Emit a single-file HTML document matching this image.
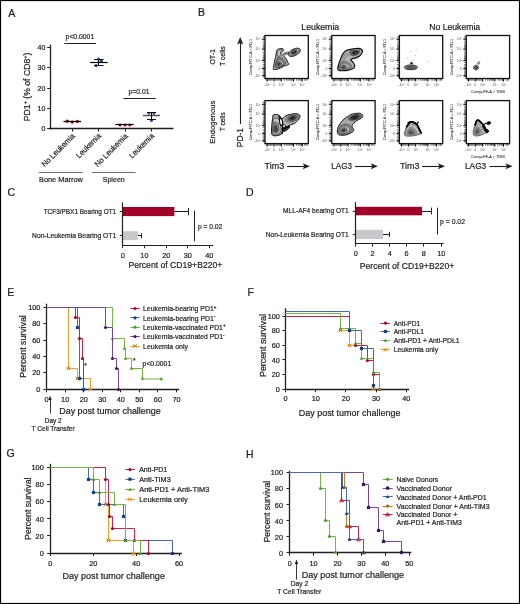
<!DOCTYPE html>
<html><head><meta charset="utf-8"><style>
html,body{margin:0;padding:0;background:#fff;overflow:hidden;}
svg{display:block;font-family:"Liberation Sans",sans-serif;}
text{stroke:#231f20;stroke-width:0.22px;}
svg{will-change:transform;}
</style></head><body>
<svg width="520" height="604" viewBox="0 0 520 604">
<rect width="520" height="604" fill="#fff"/>
<text x="8.2" y="16.5" font-size="10.5" fill="#231f20">A</text>
<text x="198.0" y="16.4" font-size="10.5" fill="#231f20">B</text>
<text x="7.5" y="196.2" font-size="10.5" fill="#231f20">C</text>
<text x="246.1" y="195.6" font-size="10.5" fill="#231f20">D</text>
<text x="7.3" y="295.6" font-size="10.5" fill="#231f20">E</text>
<text x="247.4" y="295.6" font-size="10.5" fill="#231f20">F</text>
<text x="6.4" y="457.3" font-size="10.5" fill="#231f20">G</text>
<text x="245.9" y="457.5" font-size="10.5" fill="#231f20">H</text>
<line x1="50.5" y1="44.7" x2="50.5" y2="129.5" stroke="#231f20" stroke-width="1.3"/>
<line x1="49.4" y1="128.5" x2="173.5" y2="128.5" stroke="#231f20" stroke-width="1.3"/>
<line x1="47.2" y1="128.5" x2="50" y2="128.5" stroke="#231f20" stroke-width="1"/>
<text x="45.4" y="131.4" font-size="7" text-anchor="end" fill="#231f20">0</text>
<line x1="47.2" y1="108.5" x2="50" y2="108.5" stroke="#231f20" stroke-width="1"/>
<text x="45.4" y="110.95" font-size="7" text-anchor="end" fill="#231f20">10</text>
<line x1="47.2" y1="88.5" x2="50" y2="88.5" stroke="#231f20" stroke-width="1"/>
<text x="45.4" y="90.5" font-size="7" text-anchor="end" fill="#231f20">20</text>
<line x1="47.2" y1="67.5" x2="50" y2="67.5" stroke="#231f20" stroke-width="1"/>
<text x="45.4" y="70.05000000000001" font-size="7" text-anchor="end" fill="#231f20">30</text>
<line x1="47.2" y1="47.5" x2="50" y2="47.5" stroke="#231f20" stroke-width="1"/>
<text x="45.4" y="49.60000000000001" font-size="7" text-anchor="end" fill="#231f20">40</text>
<line x1="72.5" y1="128.9" x2="72.5" y2="131.6" stroke="#231f20" stroke-width="1"/>
<line x1="98.5" y1="128.9" x2="98.5" y2="131.6" stroke="#231f20" stroke-width="1"/>
<line x1="125.5" y1="128.9" x2="125.5" y2="131.6" stroke="#231f20" stroke-width="1"/>
<line x1="151.5" y1="128.9" x2="151.5" y2="131.6" stroke="#231f20" stroke-width="1"/>
<text transform="translate(30.2,121.2) rotate(-90)" font-size="8.5" fill="#231f20" textLength="68.6" lengthAdjust="spacingAndGlyphs">PD1<tspan dy="-2.8" font-size="5.5">+</tspan><tspan dy="2.8"> (% of CD8</tspan><tspan dy="-2.8" font-size="5.5">+</tspan><tspan dy="2.8">)</tspan></text>
<text x="65.6" y="38.8" font-size="7.6" textLength="28.6" lengthAdjust="spacingAndGlyphs" fill="#231f20">p&lt;0.0001</text>
<line x1="64.4" y1="43.5" x2="96" y2="43.5" stroke="#231f20" stroke-width="1"/>
<text x="128.6" y="94.2" font-size="7.6" textLength="20.8" lengthAdjust="spacingAndGlyphs" fill="#231f20">p=0.01</text>
<line x1="123.4" y1="98.5" x2="155.7" y2="98.5" stroke="#231f20" stroke-width="1"/>
<circle cx="67.4" cy="121.2" r="1.6" fill="#a8001e"/>
<circle cx="72.2" cy="122.1" r="1.6" fill="#a8001e"/>
<circle cx="77.3" cy="121.4" r="1.6" fill="#a8001e"/>
<line x1="63.5" y1="121.5" x2="81.0" y2="121.5" stroke="#000" stroke-width="1.3"/>
<circle cx="98.6" cy="59.2" r="1.6" fill="#1f4596"/>
<circle cx="101.4" cy="61.3" r="1.6" fill="#1f4596"/>
<circle cx="96.1" cy="65.6" r="1.6" fill="#1f4596"/>
<line x1="90.1" y1="62.5" x2="107.6" y2="62.5" stroke="#000" stroke-width="1.2"/>
<line x1="98.5" y1="59.5" x2="98.5" y2="65.3" stroke="#000" stroke-width="1"/>
<line x1="94" y1="59.5" x2="103.7" y2="59.5" stroke="#111" stroke-width="1"/>
<line x1="94" y1="65.5" x2="103.5" y2="65.5" stroke="#111" stroke-width="1"/>
<circle cx="120.0" cy="124.9" r="1.5" fill="#a8001e"/>
<circle cx="125.0" cy="125.0" r="1.5" fill="#a8001e"/>
<circle cx="129.8" cy="124.9" r="1.5" fill="#a8001e"/>
<line x1="115.4" y1="124.5" x2="133.7" y2="124.5" stroke="#000" stroke-width="1.2"/>
<path d="M147.0,112.36 L150.60000000000002,112.36 L148.8,115.6 Z" fill="#1f4596"/>
<path d="M152.0,112.56 L155.60000000000002,112.56 L153.8,115.8 Z" fill="#1f4596"/>
<circle cx="151.5" cy="120.4" r="1.5" fill="#1f4596"/>
<line x1="143" y1="115.5" x2="160" y2="115.5" stroke="#555" stroke-width="1.5"/>
<line x1="151.5" y1="112.4" x2="151.5" y2="119.4" stroke="#000" stroke-width="1"/>
<line x1="146.9" y1="112.5" x2="156.2" y2="112.5" stroke="#111" stroke-width="1"/>
<line x1="147" y1="119.5" x2="156" y2="119.5" stroke="#111" stroke-width="1"/>
<text transform="translate(75.5,136.5) rotate(-45)" font-size="7.8" text-anchor="end" textLength="43.5" lengthAdjust="spacingAndGlyphs" fill="#231f20">No Leukemia</text>
<text transform="translate(101.5,136.5) rotate(-45)" font-size="7.8" text-anchor="end" textLength="31.3" lengthAdjust="spacingAndGlyphs" fill="#231f20">Leukemia</text>
<text transform="translate(128.4,136.5) rotate(-45)" font-size="7.8" text-anchor="end" textLength="43.5" lengthAdjust="spacingAndGlyphs" fill="#231f20">No Leukemia</text>
<text transform="translate(154.5,136.5) rotate(-45)" font-size="7.8" text-anchor="end" textLength="31.3" lengthAdjust="spacingAndGlyphs" fill="#231f20">Leukemia</text>
<line x1="38.8" y1="172.5" x2="82.8" y2="172.5" stroke="#6d6e71" stroke-width="1"/>
<line x1="92.2" y1="172.5" x2="135.5" y2="172.5" stroke="#6d6e71" stroke-width="1"/>
<text x="39.0" y="182.3" font-size="8.0" textLength="43.8" lengthAdjust="spacingAndGlyphs" fill="#231f20">Bone Marrow</text>
<text x="102.7" y="182.3" font-size="8.0" textLength="22.1" lengthAdjust="spacingAndGlyphs" fill="#231f20">Spleen</text>
<text x="301.3" y="30.2" font-size="8.7" textLength="37.9" lengthAdjust="spacingAndGlyphs" fill="#231f20">Leukemia</text>
<text x="429.2" y="30.2" font-size="8.7" textLength="51.0" lengthAdjust="spacingAndGlyphs" fill="#231f20">No Leukemia</text>
<text transform="translate(215.3,56.8) rotate(-90)" font-size="8" text-anchor="middle" textLength="15.6" lengthAdjust="spacingAndGlyphs" fill="#231f20">OT-1</text>
<text transform="translate(224.6,56.2) rotate(-90)" font-size="8" text-anchor="middle" textLength="19.6" lengthAdjust="spacingAndGlyphs" fill="#231f20">T cells</text>
<text transform="translate(215.2,122.2) rotate(-90)" font-size="8" text-anchor="middle" textLength="43.0" lengthAdjust="spacingAndGlyphs" fill="#231f20">Endogenous</text>
<text transform="translate(224.9,121.8) rotate(-90)" font-size="8" text-anchor="middle" textLength="19.0" lengthAdjust="spacingAndGlyphs" fill="#231f20">T cells</text>
<text transform="translate(243.3,147.2) rotate(-90)" font-size="9.8" textLength="19.2" lengthAdjust="spacingAndGlyphs" fill="#231f20">PD-1</text>
<line x1="240.5" y1="42" x2="240.5" y2="124" stroke="#231f20" stroke-width="1.1"/>
<path d="M240.2,37 L237.1,44.4 L240.2,43 L243.3,44.4 Z" fill="#231f20"/>
<text x="264.6" y="169.1" font-size="9" textLength="19.6" lengthAdjust="spacingAndGlyphs" fill="#231f20">Tim3</text>
<line x1="287.1" y1="166.5" x2="304.8" y2="166.5" stroke="#231f20" stroke-width="1.1"/>
<path d="M309.8,166.2 L302.8,163.2 L304.3,166.2 L302.8,169.2 Z" fill="#231f20"/>
<text x="331.3" y="169.1" font-size="9" textLength="20.6" lengthAdjust="spacingAndGlyphs" fill="#231f20">LAG3</text>
<line x1="355.0" y1="166.5" x2="372.8" y2="166.5" stroke="#231f20" stroke-width="1.1"/>
<path d="M377.8,166.2 L370.8,163.2 L372.3,166.2 L370.8,169.2 Z" fill="#231f20"/>
<text x="400.0" y="169.1" font-size="9" textLength="19.5" lengthAdjust="spacingAndGlyphs" fill="#231f20">Tim3</text>
<line x1="422.0" y1="166.5" x2="440.0" y2="166.5" stroke="#231f20" stroke-width="1.1"/>
<path d="M445.0,166.2 L438.0,163.2 L439.5,166.2 L438.0,169.2 Z" fill="#231f20"/>
<text x="465.0" y="169.1" font-size="9" textLength="21.2" lengthAdjust="spacingAndGlyphs" fill="#231f20">LAG3</text>
<line x1="489.5" y1="166.5" x2="507.5" y2="166.5" stroke="#231f20" stroke-width="1.1"/>
<path d="M512.5,166.2 L505.5,163.2 L507.0,166.2 L505.5,169.2 Z" fill="#231f20"/>
<rect x="265.0" y="35.5" width="43.3" height="43.0" fill="none" stroke="#111" stroke-width="1.3"/>
<line x1="262.0" y1="39.2" x2="265.0" y2="39.2" stroke="#000" stroke-width="1.0"/>
<line x1="262.0" y1="49.1" x2="265.0" y2="49.1" stroke="#000" stroke-width="1.0"/>
<line x1="262.0" y1="60.6" x2="265.0" y2="60.6" stroke="#000" stroke-width="1.0"/>
<line x1="262.0" y1="68.6" x2="265.0" y2="68.6" stroke="#000" stroke-width="1.0"/>
<line x1="262.0" y1="75.7" x2="265.0" y2="75.7" stroke="#000" stroke-width="1.0"/>
<line x1="262.8" y1="36.7" x2="265.0" y2="36.7" stroke="#222" stroke-width="0.6"/>
<line x1="262.8" y1="37.9" x2="265.0" y2="37.9" stroke="#222" stroke-width="0.6"/>
<line x1="262.8" y1="41.0" x2="265.0" y2="41.0" stroke="#222" stroke-width="0.6"/>
<line x1="262.8" y1="42.7" x2="265.0" y2="42.7" stroke="#222" stroke-width="0.6"/>
<line x1="262.8" y1="44.1" x2="265.0" y2="44.1" stroke="#222" stroke-width="0.6"/>
<line x1="262.8" y1="45.3" x2="265.0" y2="45.3" stroke="#222" stroke-width="0.6"/>
<line x1="262.8" y1="46.4" x2="265.0" y2="46.4" stroke="#222" stroke-width="0.6"/>
<line x1="262.8" y1="47.3" x2="265.0" y2="47.3" stroke="#222" stroke-width="0.6"/>
<line x1="262.8" y1="48.2" x2="265.0" y2="48.2" stroke="#222" stroke-width="0.6"/>
<line x1="262.8" y1="50.9" x2="265.0" y2="50.9" stroke="#222" stroke-width="0.6"/>
<line x1="262.8" y1="52.6" x2="265.0" y2="52.6" stroke="#222" stroke-width="0.6"/>
<line x1="262.8" y1="54.0" x2="265.0" y2="54.0" stroke="#222" stroke-width="0.6"/>
<line x1="262.8" y1="55.2" x2="265.0" y2="55.2" stroke="#222" stroke-width="0.6"/>
<line x1="262.8" y1="56.3" x2="265.0" y2="56.3" stroke="#222" stroke-width="0.6"/>
<line x1="262.8" y1="57.3" x2="265.0" y2="57.3" stroke="#222" stroke-width="0.6"/>
<line x1="262.8" y1="58.1" x2="265.0" y2="58.1" stroke="#222" stroke-width="0.6"/>
<line x1="262.8" y1="58.9" x2="265.0" y2="58.9" stroke="#222" stroke-width="0.6"/>
<line x1="262.8" y1="59.7" x2="265.0" y2="59.7" stroke="#222" stroke-width="0.6"/>
<line x1="262.8" y1="62.5" x2="265.0" y2="62.5" stroke="#222" stroke-width="0.6"/>
<line x1="262.8" y1="64.5" x2="265.0" y2="64.5" stroke="#222" stroke-width="0.6"/>
<line x1="262.8" y1="66.0" x2="265.0" y2="66.0" stroke="#222" stroke-width="0.6"/>
<line x1="262.8" y1="67.3" x2="265.0" y2="67.3" stroke="#222" stroke-width="0.6"/>
<line x1="262.8" y1="69.9" x2="265.0" y2="69.9" stroke="#222" stroke-width="0.6"/>
<line x1="262.8" y1="71.1" x2="265.0" y2="71.1" stroke="#222" stroke-width="0.6"/>
<line x1="262.8" y1="72.3" x2="265.0" y2="72.3" stroke="#222" stroke-width="0.6"/>
<line x1="262.8" y1="73.7" x2="265.0" y2="73.7" stroke="#222" stroke-width="0.6"/>
<line x1="262.8" y1="74.8" x2="265.0" y2="74.8" stroke="#222" stroke-width="0.6"/>
<line x1="262.8" y1="76.7" x2="265.0" y2="76.7" stroke="#222" stroke-width="0.6"/>
<text x="260.5" y="40.400000000000006" font-size="3.4" text-anchor="end" fill="#555" style="stroke:none">10<tspan dy='-1' font-size='2.2'>5</tspan></text>
<text x="260.5" y="50.300000000000004" font-size="3.4" text-anchor="end" fill="#555" style="stroke:none">10<tspan dy='-1' font-size='2.2'>4</tspan></text>
<text x="260.5" y="61.800000000000004" font-size="3.4" text-anchor="end" fill="#555" style="stroke:none">10<tspan dy='-1' font-size='2.2'>3</tspan></text>
<text x="260.5" y="69.8" font-size="3.4" text-anchor="end" fill="#555" style="stroke:none">0</text>
<text x="260.5" y="76.9" font-size="3.4" text-anchor="end" fill="#555" style="stroke:none">-10<tspan dy='-1' font-size='2.2'>3</tspan></text>
<text transform="translate(251.8,57.0) rotate(-90)" font-size="3.6" text-anchor="middle" textLength="36.5" lengthAdjust="spacingAndGlyphs" fill="#3a3a3a" style="stroke:#3a3a3a;stroke-width:0.08px">Comp-FITC-A :: PD-1</text>
<line x1="267.2" y1="78.5" x2="267.2" y2="81.5" stroke="#000" stroke-width="1.0"/>
<line x1="274.0" y1="78.5" x2="274.0" y2="81.5" stroke="#000" stroke-width="1.0"/>
<line x1="281.3" y1="78.5" x2="281.3" y2="81.5" stroke="#000" stroke-width="1.0"/>
<line x1="293.5" y1="78.5" x2="293.5" y2="81.5" stroke="#000" stroke-width="1.0"/>
<line x1="302.2" y1="78.5" x2="302.2" y2="81.5" stroke="#000" stroke-width="1.0"/>
<line x1="266.2" y1="78.5" x2="266.2" y2="80.7" stroke="#222" stroke-width="0.6"/>
<line x1="268.3" y1="78.5" x2="268.3" y2="80.7" stroke="#222" stroke-width="0.6"/>
<line x1="269.4" y1="78.5" x2="269.4" y2="80.7" stroke="#222" stroke-width="0.6"/>
<line x1="270.5" y1="78.5" x2="270.5" y2="80.7" stroke="#222" stroke-width="0.6"/>
<line x1="271.6" y1="78.5" x2="271.6" y2="80.7" stroke="#222" stroke-width="0.6"/>
<line x1="272.8" y1="78.5" x2="272.8" y2="80.7" stroke="#222" stroke-width="0.6"/>
<line x1="275.2" y1="78.5" x2="275.2" y2="80.7" stroke="#222" stroke-width="0.6"/>
<line x1="276.3" y1="78.5" x2="276.3" y2="80.7" stroke="#222" stroke-width="0.6"/>
<line x1="277.4" y1="78.5" x2="277.4" y2="80.7" stroke="#222" stroke-width="0.6"/>
<line x1="278.4" y1="78.5" x2="278.4" y2="80.7" stroke="#222" stroke-width="0.6"/>
<line x1="279.6" y1="78.5" x2="279.6" y2="80.7" stroke="#222" stroke-width="0.6"/>
<line x1="280.5" y1="78.5" x2="280.5" y2="80.7" stroke="#222" stroke-width="0.6"/>
<line x1="284.4" y1="78.5" x2="284.4" y2="80.7" stroke="#222" stroke-width="0.6"/>
<line x1="286.3" y1="78.5" x2="286.3" y2="80.7" stroke="#222" stroke-width="0.6"/>
<line x1="287.8" y1="78.5" x2="287.8" y2="80.7" stroke="#222" stroke-width="0.6"/>
<line x1="289.0" y1="78.5" x2="289.0" y2="80.7" stroke="#222" stroke-width="0.6"/>
<line x1="290.1" y1="78.5" x2="290.1" y2="80.7" stroke="#222" stroke-width="0.6"/>
<line x1="291.1" y1="78.5" x2="291.1" y2="80.7" stroke="#222" stroke-width="0.6"/>
<line x1="292.0" y1="78.5" x2="292.0" y2="80.7" stroke="#222" stroke-width="0.6"/>
<line x1="292.8" y1="78.5" x2="292.8" y2="80.7" stroke="#222" stroke-width="0.6"/>
<line x1="296.6" y1="78.5" x2="296.6" y2="80.7" stroke="#222" stroke-width="0.6"/>
<line x1="298.4" y1="78.5" x2="298.4" y2="80.7" stroke="#222" stroke-width="0.6"/>
<line x1="299.8" y1="78.5" x2="299.8" y2="80.7" stroke="#222" stroke-width="0.6"/>
<line x1="300.9" y1="78.5" x2="300.9" y2="80.7" stroke="#222" stroke-width="0.6"/>
<line x1="301.6" y1="78.5" x2="301.6" y2="80.7" stroke="#222" stroke-width="0.6"/>
<line x1="304.6" y1="78.5" x2="304.6" y2="80.7" stroke="#222" stroke-width="0.6"/>
<line x1="306.0" y1="78.5" x2="306.0" y2="80.7" stroke="#222" stroke-width="0.6"/>
<line x1="307.2" y1="78.5" x2="307.2" y2="80.7" stroke="#222" stroke-width="0.6"/>
<text x="267.2" y="86.1" font-size="3.4" text-anchor="middle" fill="#555" style="stroke:none">-10<tspan dy='-1' font-size='2.2'>3</tspan></text>
<text x="274.0" y="86.1" font-size="3.4" text-anchor="middle" fill="#555" style="stroke:none">0</text>
<text x="281.3" y="86.1" font-size="3.4" text-anchor="middle" fill="#555" style="stroke:none">10<tspan dy='-1' font-size='2.2'>3</tspan></text>
<text x="293.5" y="86.1" font-size="3.4" text-anchor="middle" fill="#555" style="stroke:none">10<tspan dy='-1' font-size='2.2'>4</tspan></text>
<text x="302.2" y="86.1" font-size="3.4" text-anchor="middle" fill="#555" style="stroke:none">10<tspan dy='-1' font-size='2.2'>5</tspan></text>
<rect x="331.8" y="35.5" width="43.3" height="43.0" fill="none" stroke="#111" stroke-width="1.3"/>
<line x1="328.8" y1="39.2" x2="331.8" y2="39.2" stroke="#000" stroke-width="1.0"/>
<line x1="328.8" y1="49.1" x2="331.8" y2="49.1" stroke="#000" stroke-width="1.0"/>
<line x1="328.8" y1="60.6" x2="331.8" y2="60.6" stroke="#000" stroke-width="1.0"/>
<line x1="328.8" y1="68.6" x2="331.8" y2="68.6" stroke="#000" stroke-width="1.0"/>
<line x1="328.8" y1="75.7" x2="331.8" y2="75.7" stroke="#000" stroke-width="1.0"/>
<line x1="329.6" y1="36.7" x2="331.8" y2="36.7" stroke="#222" stroke-width="0.6"/>
<line x1="329.6" y1="37.9" x2="331.8" y2="37.9" stroke="#222" stroke-width="0.6"/>
<line x1="329.6" y1="41.0" x2="331.8" y2="41.0" stroke="#222" stroke-width="0.6"/>
<line x1="329.6" y1="42.7" x2="331.8" y2="42.7" stroke="#222" stroke-width="0.6"/>
<line x1="329.6" y1="44.1" x2="331.8" y2="44.1" stroke="#222" stroke-width="0.6"/>
<line x1="329.6" y1="45.3" x2="331.8" y2="45.3" stroke="#222" stroke-width="0.6"/>
<line x1="329.6" y1="46.4" x2="331.8" y2="46.4" stroke="#222" stroke-width="0.6"/>
<line x1="329.6" y1="47.3" x2="331.8" y2="47.3" stroke="#222" stroke-width="0.6"/>
<line x1="329.6" y1="48.2" x2="331.8" y2="48.2" stroke="#222" stroke-width="0.6"/>
<line x1="329.6" y1="50.9" x2="331.8" y2="50.9" stroke="#222" stroke-width="0.6"/>
<line x1="329.6" y1="52.6" x2="331.8" y2="52.6" stroke="#222" stroke-width="0.6"/>
<line x1="329.6" y1="54.0" x2="331.8" y2="54.0" stroke="#222" stroke-width="0.6"/>
<line x1="329.6" y1="55.2" x2="331.8" y2="55.2" stroke="#222" stroke-width="0.6"/>
<line x1="329.6" y1="56.3" x2="331.8" y2="56.3" stroke="#222" stroke-width="0.6"/>
<line x1="329.6" y1="57.3" x2="331.8" y2="57.3" stroke="#222" stroke-width="0.6"/>
<line x1="329.6" y1="58.1" x2="331.8" y2="58.1" stroke="#222" stroke-width="0.6"/>
<line x1="329.6" y1="58.9" x2="331.8" y2="58.9" stroke="#222" stroke-width="0.6"/>
<line x1="329.6" y1="59.7" x2="331.8" y2="59.7" stroke="#222" stroke-width="0.6"/>
<line x1="329.6" y1="62.5" x2="331.8" y2="62.5" stroke="#222" stroke-width="0.6"/>
<line x1="329.6" y1="64.5" x2="331.8" y2="64.5" stroke="#222" stroke-width="0.6"/>
<line x1="329.6" y1="66.0" x2="331.8" y2="66.0" stroke="#222" stroke-width="0.6"/>
<line x1="329.6" y1="67.3" x2="331.8" y2="67.3" stroke="#222" stroke-width="0.6"/>
<line x1="329.6" y1="69.9" x2="331.8" y2="69.9" stroke="#222" stroke-width="0.6"/>
<line x1="329.6" y1="71.1" x2="331.8" y2="71.1" stroke="#222" stroke-width="0.6"/>
<line x1="329.6" y1="72.3" x2="331.8" y2="72.3" stroke="#222" stroke-width="0.6"/>
<line x1="329.6" y1="73.7" x2="331.8" y2="73.7" stroke="#222" stroke-width="0.6"/>
<line x1="329.6" y1="74.8" x2="331.8" y2="74.8" stroke="#222" stroke-width="0.6"/>
<line x1="329.6" y1="76.7" x2="331.8" y2="76.7" stroke="#222" stroke-width="0.6"/>
<text x="327.3" y="40.400000000000006" font-size="3.4" text-anchor="end" fill="#555" style="stroke:none">10<tspan dy='-1' font-size='2.2'>5</tspan></text>
<text x="327.3" y="50.300000000000004" font-size="3.4" text-anchor="end" fill="#555" style="stroke:none">10<tspan dy='-1' font-size='2.2'>4</tspan></text>
<text x="327.3" y="61.800000000000004" font-size="3.4" text-anchor="end" fill="#555" style="stroke:none">10<tspan dy='-1' font-size='2.2'>3</tspan></text>
<text x="327.3" y="69.8" font-size="3.4" text-anchor="end" fill="#555" style="stroke:none">0</text>
<text x="327.3" y="76.9" font-size="3.4" text-anchor="end" fill="#555" style="stroke:none">-10<tspan dy='-1' font-size='2.2'>3</tspan></text>
<text transform="translate(318.6,57.0) rotate(-90)" font-size="3.6" text-anchor="middle" textLength="36.5" lengthAdjust="spacingAndGlyphs" fill="#3a3a3a" style="stroke:#3a3a3a;stroke-width:0.08px">Comp-FITC-A :: PD-1</text>
<line x1="334.0" y1="78.5" x2="334.0" y2="81.5" stroke="#000" stroke-width="1.0"/>
<line x1="340.8" y1="78.5" x2="340.8" y2="81.5" stroke="#000" stroke-width="1.0"/>
<line x1="348.1" y1="78.5" x2="348.1" y2="81.5" stroke="#000" stroke-width="1.0"/>
<line x1="360.3" y1="78.5" x2="360.3" y2="81.5" stroke="#000" stroke-width="1.0"/>
<line x1="369.0" y1="78.5" x2="369.0" y2="81.5" stroke="#000" stroke-width="1.0"/>
<line x1="333.0" y1="78.5" x2="333.0" y2="80.7" stroke="#222" stroke-width="0.6"/>
<line x1="335.1" y1="78.5" x2="335.1" y2="80.7" stroke="#222" stroke-width="0.6"/>
<line x1="336.2" y1="78.5" x2="336.2" y2="80.7" stroke="#222" stroke-width="0.6"/>
<line x1="337.3" y1="78.5" x2="337.3" y2="80.7" stroke="#222" stroke-width="0.6"/>
<line x1="338.40000000000003" y1="78.5" x2="338.40000000000003" y2="80.7" stroke="#222" stroke-width="0.6"/>
<line x1="339.6" y1="78.5" x2="339.6" y2="80.7" stroke="#222" stroke-width="0.6"/>
<line x1="342.0" y1="78.5" x2="342.0" y2="80.7" stroke="#222" stroke-width="0.6"/>
<line x1="343.1" y1="78.5" x2="343.1" y2="80.7" stroke="#222" stroke-width="0.6"/>
<line x1="344.2" y1="78.5" x2="344.2" y2="80.7" stroke="#222" stroke-width="0.6"/>
<line x1="345.2" y1="78.5" x2="345.2" y2="80.7" stroke="#222" stroke-width="0.6"/>
<line x1="346.40000000000003" y1="78.5" x2="346.40000000000003" y2="80.7" stroke="#222" stroke-width="0.6"/>
<line x1="347.3" y1="78.5" x2="347.3" y2="80.7" stroke="#222" stroke-width="0.6"/>
<line x1="351.2" y1="78.5" x2="351.2" y2="80.7" stroke="#222" stroke-width="0.6"/>
<line x1="353.1" y1="78.5" x2="353.1" y2="80.7" stroke="#222" stroke-width="0.6"/>
<line x1="354.6" y1="78.5" x2="354.6" y2="80.7" stroke="#222" stroke-width="0.6"/>
<line x1="355.8" y1="78.5" x2="355.8" y2="80.7" stroke="#222" stroke-width="0.6"/>
<line x1="356.90000000000003" y1="78.5" x2="356.90000000000003" y2="80.7" stroke="#222" stroke-width="0.6"/>
<line x1="357.90000000000003" y1="78.5" x2="357.90000000000003" y2="80.7" stroke="#222" stroke-width="0.6"/>
<line x1="358.8" y1="78.5" x2="358.8" y2="80.7" stroke="#222" stroke-width="0.6"/>
<line x1="359.6" y1="78.5" x2="359.6" y2="80.7" stroke="#222" stroke-width="0.6"/>
<line x1="363.40000000000003" y1="78.5" x2="363.40000000000003" y2="80.7" stroke="#222" stroke-width="0.6"/>
<line x1="365.2" y1="78.5" x2="365.2" y2="80.7" stroke="#222" stroke-width="0.6"/>
<line x1="366.6" y1="78.5" x2="366.6" y2="80.7" stroke="#222" stroke-width="0.6"/>
<line x1="367.7" y1="78.5" x2="367.7" y2="80.7" stroke="#222" stroke-width="0.6"/>
<line x1="368.40000000000003" y1="78.5" x2="368.40000000000003" y2="80.7" stroke="#222" stroke-width="0.6"/>
<line x1="371.40000000000003" y1="78.5" x2="371.40000000000003" y2="80.7" stroke="#222" stroke-width="0.6"/>
<line x1="372.8" y1="78.5" x2="372.8" y2="80.7" stroke="#222" stroke-width="0.6"/>
<line x1="374.0" y1="78.5" x2="374.0" y2="80.7" stroke="#222" stroke-width="0.6"/>
<text x="334.0" y="86.1" font-size="3.4" text-anchor="middle" fill="#555" style="stroke:none">-10<tspan dy='-1' font-size='2.2'>3</tspan></text>
<text x="340.8" y="86.1" font-size="3.4" text-anchor="middle" fill="#555" style="stroke:none">0</text>
<text x="348.1" y="86.1" font-size="3.4" text-anchor="middle" fill="#555" style="stroke:none">10<tspan dy='-1' font-size='2.2'>3</tspan></text>
<text x="360.3" y="86.1" font-size="3.4" text-anchor="middle" fill="#555" style="stroke:none">10<tspan dy='-1' font-size='2.2'>4</tspan></text>
<text x="369.0" y="86.1" font-size="3.4" text-anchor="middle" fill="#555" style="stroke:none">10<tspan dy='-1' font-size='2.2'>5</tspan></text>
<rect x="399.4" y="35.5" width="43.3" height="43.0" fill="none" stroke="#111" stroke-width="1.3"/>
<line x1="396.4" y1="39.2" x2="399.4" y2="39.2" stroke="#000" stroke-width="1.0"/>
<line x1="396.4" y1="49.1" x2="399.4" y2="49.1" stroke="#000" stroke-width="1.0"/>
<line x1="396.4" y1="60.6" x2="399.4" y2="60.6" stroke="#000" stroke-width="1.0"/>
<line x1="396.4" y1="68.6" x2="399.4" y2="68.6" stroke="#000" stroke-width="1.0"/>
<line x1="396.4" y1="75.7" x2="399.4" y2="75.7" stroke="#000" stroke-width="1.0"/>
<line x1="397.2" y1="36.7" x2="399.4" y2="36.7" stroke="#222" stroke-width="0.6"/>
<line x1="397.2" y1="37.9" x2="399.4" y2="37.9" stroke="#222" stroke-width="0.6"/>
<line x1="397.2" y1="41.0" x2="399.4" y2="41.0" stroke="#222" stroke-width="0.6"/>
<line x1="397.2" y1="42.7" x2="399.4" y2="42.7" stroke="#222" stroke-width="0.6"/>
<line x1="397.2" y1="44.1" x2="399.4" y2="44.1" stroke="#222" stroke-width="0.6"/>
<line x1="397.2" y1="45.3" x2="399.4" y2="45.3" stroke="#222" stroke-width="0.6"/>
<line x1="397.2" y1="46.4" x2="399.4" y2="46.4" stroke="#222" stroke-width="0.6"/>
<line x1="397.2" y1="47.3" x2="399.4" y2="47.3" stroke="#222" stroke-width="0.6"/>
<line x1="397.2" y1="48.2" x2="399.4" y2="48.2" stroke="#222" stroke-width="0.6"/>
<line x1="397.2" y1="50.9" x2="399.4" y2="50.9" stroke="#222" stroke-width="0.6"/>
<line x1="397.2" y1="52.6" x2="399.4" y2="52.6" stroke="#222" stroke-width="0.6"/>
<line x1="397.2" y1="54.0" x2="399.4" y2="54.0" stroke="#222" stroke-width="0.6"/>
<line x1="397.2" y1="55.2" x2="399.4" y2="55.2" stroke="#222" stroke-width="0.6"/>
<line x1="397.2" y1="56.3" x2="399.4" y2="56.3" stroke="#222" stroke-width="0.6"/>
<line x1="397.2" y1="57.3" x2="399.4" y2="57.3" stroke="#222" stroke-width="0.6"/>
<line x1="397.2" y1="58.1" x2="399.4" y2="58.1" stroke="#222" stroke-width="0.6"/>
<line x1="397.2" y1="58.9" x2="399.4" y2="58.9" stroke="#222" stroke-width="0.6"/>
<line x1="397.2" y1="59.7" x2="399.4" y2="59.7" stroke="#222" stroke-width="0.6"/>
<line x1="397.2" y1="62.5" x2="399.4" y2="62.5" stroke="#222" stroke-width="0.6"/>
<line x1="397.2" y1="64.5" x2="399.4" y2="64.5" stroke="#222" stroke-width="0.6"/>
<line x1="397.2" y1="66.0" x2="399.4" y2="66.0" stroke="#222" stroke-width="0.6"/>
<line x1="397.2" y1="67.3" x2="399.4" y2="67.3" stroke="#222" stroke-width="0.6"/>
<line x1="397.2" y1="69.9" x2="399.4" y2="69.9" stroke="#222" stroke-width="0.6"/>
<line x1="397.2" y1="71.1" x2="399.4" y2="71.1" stroke="#222" stroke-width="0.6"/>
<line x1="397.2" y1="72.3" x2="399.4" y2="72.3" stroke="#222" stroke-width="0.6"/>
<line x1="397.2" y1="73.7" x2="399.4" y2="73.7" stroke="#222" stroke-width="0.6"/>
<line x1="397.2" y1="74.8" x2="399.4" y2="74.8" stroke="#222" stroke-width="0.6"/>
<line x1="397.2" y1="76.7" x2="399.4" y2="76.7" stroke="#222" stroke-width="0.6"/>
<text x="394.9" y="40.400000000000006" font-size="3.4" text-anchor="end" fill="#555" style="stroke:none">10<tspan dy='-1' font-size='2.2'>5</tspan></text>
<text x="394.9" y="50.300000000000004" font-size="3.4" text-anchor="end" fill="#555" style="stroke:none">10<tspan dy='-1' font-size='2.2'>4</tspan></text>
<text x="394.9" y="61.800000000000004" font-size="3.4" text-anchor="end" fill="#555" style="stroke:none">10<tspan dy='-1' font-size='2.2'>3</tspan></text>
<text x="394.9" y="69.8" font-size="3.4" text-anchor="end" fill="#555" style="stroke:none">0</text>
<text x="394.9" y="76.9" font-size="3.4" text-anchor="end" fill="#555" style="stroke:none">-10<tspan dy='-1' font-size='2.2'>3</tspan></text>
<text transform="translate(386.2,57.0) rotate(-90)" font-size="3.6" text-anchor="middle" textLength="36.5" lengthAdjust="spacingAndGlyphs" fill="#3a3a3a" style="stroke:#3a3a3a;stroke-width:0.08px">Comp-FITC-A :: PD-1</text>
<line x1="401.59999999999997" y1="78.5" x2="401.59999999999997" y2="81.5" stroke="#000" stroke-width="1.0"/>
<line x1="408.4" y1="78.5" x2="408.4" y2="81.5" stroke="#000" stroke-width="1.0"/>
<line x1="415.7" y1="78.5" x2="415.7" y2="81.5" stroke="#000" stroke-width="1.0"/>
<line x1="427.9" y1="78.5" x2="427.9" y2="81.5" stroke="#000" stroke-width="1.0"/>
<line x1="436.59999999999997" y1="78.5" x2="436.59999999999997" y2="81.5" stroke="#000" stroke-width="1.0"/>
<line x1="400.59999999999997" y1="78.5" x2="400.59999999999997" y2="80.7" stroke="#222" stroke-width="0.6"/>
<line x1="402.7" y1="78.5" x2="402.7" y2="80.7" stroke="#222" stroke-width="0.6"/>
<line x1="403.79999999999995" y1="78.5" x2="403.79999999999995" y2="80.7" stroke="#222" stroke-width="0.6"/>
<line x1="404.9" y1="78.5" x2="404.9" y2="80.7" stroke="#222" stroke-width="0.6"/>
<line x1="406.0" y1="78.5" x2="406.0" y2="80.7" stroke="#222" stroke-width="0.6"/>
<line x1="407.2" y1="78.5" x2="407.2" y2="80.7" stroke="#222" stroke-width="0.6"/>
<line x1="409.59999999999997" y1="78.5" x2="409.59999999999997" y2="80.7" stroke="#222" stroke-width="0.6"/>
<line x1="410.7" y1="78.5" x2="410.7" y2="80.7" stroke="#222" stroke-width="0.6"/>
<line x1="411.79999999999995" y1="78.5" x2="411.79999999999995" y2="80.7" stroke="#222" stroke-width="0.6"/>
<line x1="412.79999999999995" y1="78.5" x2="412.79999999999995" y2="80.7" stroke="#222" stroke-width="0.6"/>
<line x1="414.0" y1="78.5" x2="414.0" y2="80.7" stroke="#222" stroke-width="0.6"/>
<line x1="414.9" y1="78.5" x2="414.9" y2="80.7" stroke="#222" stroke-width="0.6"/>
<line x1="418.79999999999995" y1="78.5" x2="418.79999999999995" y2="80.7" stroke="#222" stroke-width="0.6"/>
<line x1="420.7" y1="78.5" x2="420.7" y2="80.7" stroke="#222" stroke-width="0.6"/>
<line x1="422.2" y1="78.5" x2="422.2" y2="80.7" stroke="#222" stroke-width="0.6"/>
<line x1="423.4" y1="78.5" x2="423.4" y2="80.7" stroke="#222" stroke-width="0.6"/>
<line x1="424.5" y1="78.5" x2="424.5" y2="80.7" stroke="#222" stroke-width="0.6"/>
<line x1="425.5" y1="78.5" x2="425.5" y2="80.7" stroke="#222" stroke-width="0.6"/>
<line x1="426.4" y1="78.5" x2="426.4" y2="80.7" stroke="#222" stroke-width="0.6"/>
<line x1="427.2" y1="78.5" x2="427.2" y2="80.7" stroke="#222" stroke-width="0.6"/>
<line x1="431.0" y1="78.5" x2="431.0" y2="80.7" stroke="#222" stroke-width="0.6"/>
<line x1="432.79999999999995" y1="78.5" x2="432.79999999999995" y2="80.7" stroke="#222" stroke-width="0.6"/>
<line x1="434.2" y1="78.5" x2="434.2" y2="80.7" stroke="#222" stroke-width="0.6"/>
<line x1="435.29999999999995" y1="78.5" x2="435.29999999999995" y2="80.7" stroke="#222" stroke-width="0.6"/>
<line x1="436.0" y1="78.5" x2="436.0" y2="80.7" stroke="#222" stroke-width="0.6"/>
<line x1="439.0" y1="78.5" x2="439.0" y2="80.7" stroke="#222" stroke-width="0.6"/>
<line x1="440.4" y1="78.5" x2="440.4" y2="80.7" stroke="#222" stroke-width="0.6"/>
<line x1="441.59999999999997" y1="78.5" x2="441.59999999999997" y2="80.7" stroke="#222" stroke-width="0.6"/>
<text x="401.59999999999997" y="86.1" font-size="3.4" text-anchor="middle" fill="#555" style="stroke:none">-10<tspan dy='-1' font-size='2.2'>3</tspan></text>
<text x="408.4" y="86.1" font-size="3.4" text-anchor="middle" fill="#555" style="stroke:none">0</text>
<text x="415.7" y="86.1" font-size="3.4" text-anchor="middle" fill="#555" style="stroke:none">10<tspan dy='-1' font-size='2.2'>3</tspan></text>
<text x="427.9" y="86.1" font-size="3.4" text-anchor="middle" fill="#555" style="stroke:none">10<tspan dy='-1' font-size='2.2'>4</tspan></text>
<text x="436.59999999999997" y="86.1" font-size="3.4" text-anchor="middle" fill="#555" style="stroke:none">10<tspan dy='-1' font-size='2.2'>5</tspan></text>
<rect x="466.3" y="35.5" width="43.3" height="43.0" fill="none" stroke="#111" stroke-width="1.3"/>
<line x1="463.3" y1="39.2" x2="466.3" y2="39.2" stroke="#000" stroke-width="1.0"/>
<line x1="463.3" y1="49.1" x2="466.3" y2="49.1" stroke="#000" stroke-width="1.0"/>
<line x1="463.3" y1="60.6" x2="466.3" y2="60.6" stroke="#000" stroke-width="1.0"/>
<line x1="463.3" y1="68.6" x2="466.3" y2="68.6" stroke="#000" stroke-width="1.0"/>
<line x1="463.3" y1="75.7" x2="466.3" y2="75.7" stroke="#000" stroke-width="1.0"/>
<line x1="464.1" y1="36.7" x2="466.3" y2="36.7" stroke="#222" stroke-width="0.6"/>
<line x1="464.1" y1="37.9" x2="466.3" y2="37.9" stroke="#222" stroke-width="0.6"/>
<line x1="464.1" y1="41.0" x2="466.3" y2="41.0" stroke="#222" stroke-width="0.6"/>
<line x1="464.1" y1="42.7" x2="466.3" y2="42.7" stroke="#222" stroke-width="0.6"/>
<line x1="464.1" y1="44.1" x2="466.3" y2="44.1" stroke="#222" stroke-width="0.6"/>
<line x1="464.1" y1="45.3" x2="466.3" y2="45.3" stroke="#222" stroke-width="0.6"/>
<line x1="464.1" y1="46.4" x2="466.3" y2="46.4" stroke="#222" stroke-width="0.6"/>
<line x1="464.1" y1="47.3" x2="466.3" y2="47.3" stroke="#222" stroke-width="0.6"/>
<line x1="464.1" y1="48.2" x2="466.3" y2="48.2" stroke="#222" stroke-width="0.6"/>
<line x1="464.1" y1="50.9" x2="466.3" y2="50.9" stroke="#222" stroke-width="0.6"/>
<line x1="464.1" y1="52.6" x2="466.3" y2="52.6" stroke="#222" stroke-width="0.6"/>
<line x1="464.1" y1="54.0" x2="466.3" y2="54.0" stroke="#222" stroke-width="0.6"/>
<line x1="464.1" y1="55.2" x2="466.3" y2="55.2" stroke="#222" stroke-width="0.6"/>
<line x1="464.1" y1="56.3" x2="466.3" y2="56.3" stroke="#222" stroke-width="0.6"/>
<line x1="464.1" y1="57.3" x2="466.3" y2="57.3" stroke="#222" stroke-width="0.6"/>
<line x1="464.1" y1="58.1" x2="466.3" y2="58.1" stroke="#222" stroke-width="0.6"/>
<line x1="464.1" y1="58.9" x2="466.3" y2="58.9" stroke="#222" stroke-width="0.6"/>
<line x1="464.1" y1="59.7" x2="466.3" y2="59.7" stroke="#222" stroke-width="0.6"/>
<line x1="464.1" y1="62.5" x2="466.3" y2="62.5" stroke="#222" stroke-width="0.6"/>
<line x1="464.1" y1="64.5" x2="466.3" y2="64.5" stroke="#222" stroke-width="0.6"/>
<line x1="464.1" y1="66.0" x2="466.3" y2="66.0" stroke="#222" stroke-width="0.6"/>
<line x1="464.1" y1="67.3" x2="466.3" y2="67.3" stroke="#222" stroke-width="0.6"/>
<line x1="464.1" y1="69.9" x2="466.3" y2="69.9" stroke="#222" stroke-width="0.6"/>
<line x1="464.1" y1="71.1" x2="466.3" y2="71.1" stroke="#222" stroke-width="0.6"/>
<line x1="464.1" y1="72.3" x2="466.3" y2="72.3" stroke="#222" stroke-width="0.6"/>
<line x1="464.1" y1="73.7" x2="466.3" y2="73.7" stroke="#222" stroke-width="0.6"/>
<line x1="464.1" y1="74.8" x2="466.3" y2="74.8" stroke="#222" stroke-width="0.6"/>
<line x1="464.1" y1="76.7" x2="466.3" y2="76.7" stroke="#222" stroke-width="0.6"/>
<text x="461.8" y="40.400000000000006" font-size="3.4" text-anchor="end" fill="#555" style="stroke:none">10<tspan dy='-1' font-size='2.2'>5</tspan></text>
<text x="461.8" y="50.300000000000004" font-size="3.4" text-anchor="end" fill="#555" style="stroke:none">10<tspan dy='-1' font-size='2.2'>4</tspan></text>
<text x="461.8" y="61.800000000000004" font-size="3.4" text-anchor="end" fill="#555" style="stroke:none">10<tspan dy='-1' font-size='2.2'>3</tspan></text>
<text x="461.8" y="69.8" font-size="3.4" text-anchor="end" fill="#555" style="stroke:none">0</text>
<text x="461.8" y="76.9" font-size="3.4" text-anchor="end" fill="#555" style="stroke:none">-10<tspan dy='-1' font-size='2.2'>3</tspan></text>
<text transform="translate(453.1,57.0) rotate(-90)" font-size="3.6" text-anchor="middle" textLength="36.5" lengthAdjust="spacingAndGlyphs" fill="#3a3a3a" style="stroke:#3a3a3a;stroke-width:0.08px">Comp-FITC-A :: PD-1</text>
<line x1="468.5" y1="78.5" x2="468.5" y2="81.5" stroke="#000" stroke-width="1.0"/>
<line x1="475.3" y1="78.5" x2="475.3" y2="81.5" stroke="#000" stroke-width="1.0"/>
<line x1="482.6" y1="78.5" x2="482.6" y2="81.5" stroke="#000" stroke-width="1.0"/>
<line x1="494.8" y1="78.5" x2="494.8" y2="81.5" stroke="#000" stroke-width="1.0"/>
<line x1="503.5" y1="78.5" x2="503.5" y2="81.5" stroke="#000" stroke-width="1.0"/>
<line x1="467.5" y1="78.5" x2="467.5" y2="80.7" stroke="#222" stroke-width="0.6"/>
<line x1="469.6" y1="78.5" x2="469.6" y2="80.7" stroke="#222" stroke-width="0.6"/>
<line x1="470.7" y1="78.5" x2="470.7" y2="80.7" stroke="#222" stroke-width="0.6"/>
<line x1="471.8" y1="78.5" x2="471.8" y2="80.7" stroke="#222" stroke-width="0.6"/>
<line x1="472.90000000000003" y1="78.5" x2="472.90000000000003" y2="80.7" stroke="#222" stroke-width="0.6"/>
<line x1="474.1" y1="78.5" x2="474.1" y2="80.7" stroke="#222" stroke-width="0.6"/>
<line x1="476.5" y1="78.5" x2="476.5" y2="80.7" stroke="#222" stroke-width="0.6"/>
<line x1="477.6" y1="78.5" x2="477.6" y2="80.7" stroke="#222" stroke-width="0.6"/>
<line x1="478.7" y1="78.5" x2="478.7" y2="80.7" stroke="#222" stroke-width="0.6"/>
<line x1="479.7" y1="78.5" x2="479.7" y2="80.7" stroke="#222" stroke-width="0.6"/>
<line x1="480.90000000000003" y1="78.5" x2="480.90000000000003" y2="80.7" stroke="#222" stroke-width="0.6"/>
<line x1="481.8" y1="78.5" x2="481.8" y2="80.7" stroke="#222" stroke-width="0.6"/>
<line x1="485.7" y1="78.5" x2="485.7" y2="80.7" stroke="#222" stroke-width="0.6"/>
<line x1="487.6" y1="78.5" x2="487.6" y2="80.7" stroke="#222" stroke-width="0.6"/>
<line x1="489.1" y1="78.5" x2="489.1" y2="80.7" stroke="#222" stroke-width="0.6"/>
<line x1="490.3" y1="78.5" x2="490.3" y2="80.7" stroke="#222" stroke-width="0.6"/>
<line x1="491.40000000000003" y1="78.5" x2="491.40000000000003" y2="80.7" stroke="#222" stroke-width="0.6"/>
<line x1="492.40000000000003" y1="78.5" x2="492.40000000000003" y2="80.7" stroke="#222" stroke-width="0.6"/>
<line x1="493.3" y1="78.5" x2="493.3" y2="80.7" stroke="#222" stroke-width="0.6"/>
<line x1="494.1" y1="78.5" x2="494.1" y2="80.7" stroke="#222" stroke-width="0.6"/>
<line x1="497.90000000000003" y1="78.5" x2="497.90000000000003" y2="80.7" stroke="#222" stroke-width="0.6"/>
<line x1="499.7" y1="78.5" x2="499.7" y2="80.7" stroke="#222" stroke-width="0.6"/>
<line x1="501.1" y1="78.5" x2="501.1" y2="80.7" stroke="#222" stroke-width="0.6"/>
<line x1="502.2" y1="78.5" x2="502.2" y2="80.7" stroke="#222" stroke-width="0.6"/>
<line x1="502.90000000000003" y1="78.5" x2="502.90000000000003" y2="80.7" stroke="#222" stroke-width="0.6"/>
<line x1="505.90000000000003" y1="78.5" x2="505.90000000000003" y2="80.7" stroke="#222" stroke-width="0.6"/>
<line x1="507.3" y1="78.5" x2="507.3" y2="80.7" stroke="#222" stroke-width="0.6"/>
<line x1="508.5" y1="78.5" x2="508.5" y2="80.7" stroke="#222" stroke-width="0.6"/>
<text x="468.5" y="86.1" font-size="3.4" text-anchor="middle" fill="#555" style="stroke:none">-10<tspan dy='-1' font-size='2.2'>3</tspan></text>
<text x="475.3" y="86.1" font-size="3.4" text-anchor="middle" fill="#555" style="stroke:none">0</text>
<text x="482.6" y="86.1" font-size="3.4" text-anchor="middle" fill="#555" style="stroke:none">10<tspan dy='-1' font-size='2.2'>3</tspan></text>
<text x="494.8" y="86.1" font-size="3.4" text-anchor="middle" fill="#555" style="stroke:none">10<tspan dy='-1' font-size='2.2'>4</tspan></text>
<text x="503.5" y="86.1" font-size="3.4" text-anchor="middle" fill="#555" style="stroke:none">10<tspan dy='-1' font-size='2.2'>5</tspan></text>
<text x="471.3" y="93.0" font-size="3.6" textLength="33.5" lengthAdjust="spacingAndGlyphs" fill="#3a3a3a" style="stroke:#3a3a3a;stroke-width:0.08px">Comp-PE-A :: TIM3</text>
<rect x="265.0" y="100.6" width="43.3" height="43.0" fill="none" stroke="#111" stroke-width="1.3"/>
<line x1="262.0" y1="104.3" x2="265.0" y2="104.3" stroke="#000" stroke-width="1.0"/>
<line x1="262.0" y1="114.19999999999999" x2="265.0" y2="114.19999999999999" stroke="#000" stroke-width="1.0"/>
<line x1="262.0" y1="125.69999999999999" x2="265.0" y2="125.69999999999999" stroke="#000" stroke-width="1.0"/>
<line x1="262.0" y1="133.7" x2="265.0" y2="133.7" stroke="#000" stroke-width="1.0"/>
<line x1="262.0" y1="140.8" x2="265.0" y2="140.8" stroke="#000" stroke-width="1.0"/>
<line x1="262.8" y1="101.8" x2="265.0" y2="101.8" stroke="#222" stroke-width="0.6"/>
<line x1="262.8" y1="103.0" x2="265.0" y2="103.0" stroke="#222" stroke-width="0.6"/>
<line x1="262.8" y1="106.1" x2="265.0" y2="106.1" stroke="#222" stroke-width="0.6"/>
<line x1="262.8" y1="107.8" x2="265.0" y2="107.8" stroke="#222" stroke-width="0.6"/>
<line x1="262.8" y1="109.19999999999999" x2="265.0" y2="109.19999999999999" stroke="#222" stroke-width="0.6"/>
<line x1="262.8" y1="110.39999999999999" x2="265.0" y2="110.39999999999999" stroke="#222" stroke-width="0.6"/>
<line x1="262.8" y1="111.5" x2="265.0" y2="111.5" stroke="#222" stroke-width="0.6"/>
<line x1="262.8" y1="112.39999999999999" x2="265.0" y2="112.39999999999999" stroke="#222" stroke-width="0.6"/>
<line x1="262.8" y1="113.3" x2="265.0" y2="113.3" stroke="#222" stroke-width="0.6"/>
<line x1="262.8" y1="116.0" x2="265.0" y2="116.0" stroke="#222" stroke-width="0.6"/>
<line x1="262.8" y1="117.69999999999999" x2="265.0" y2="117.69999999999999" stroke="#222" stroke-width="0.6"/>
<line x1="262.8" y1="119.1" x2="265.0" y2="119.1" stroke="#222" stroke-width="0.6"/>
<line x1="262.8" y1="120.3" x2="265.0" y2="120.3" stroke="#222" stroke-width="0.6"/>
<line x1="262.8" y1="121.39999999999999" x2="265.0" y2="121.39999999999999" stroke="#222" stroke-width="0.6"/>
<line x1="262.8" y1="122.39999999999999" x2="265.0" y2="122.39999999999999" stroke="#222" stroke-width="0.6"/>
<line x1="262.8" y1="123.19999999999999" x2="265.0" y2="123.19999999999999" stroke="#222" stroke-width="0.6"/>
<line x1="262.8" y1="124.0" x2="265.0" y2="124.0" stroke="#222" stroke-width="0.6"/>
<line x1="262.8" y1="124.8" x2="265.0" y2="124.8" stroke="#222" stroke-width="0.6"/>
<line x1="262.8" y1="127.6" x2="265.0" y2="127.6" stroke="#222" stroke-width="0.6"/>
<line x1="262.8" y1="129.6" x2="265.0" y2="129.6" stroke="#222" stroke-width="0.6"/>
<line x1="262.8" y1="131.1" x2="265.0" y2="131.1" stroke="#222" stroke-width="0.6"/>
<line x1="262.8" y1="132.4" x2="265.0" y2="132.4" stroke="#222" stroke-width="0.6"/>
<line x1="262.8" y1="135.0" x2="265.0" y2="135.0" stroke="#222" stroke-width="0.6"/>
<line x1="262.8" y1="136.2" x2="265.0" y2="136.2" stroke="#222" stroke-width="0.6"/>
<line x1="262.8" y1="137.39999999999998" x2="265.0" y2="137.39999999999998" stroke="#222" stroke-width="0.6"/>
<line x1="262.8" y1="138.8" x2="265.0" y2="138.8" stroke="#222" stroke-width="0.6"/>
<line x1="262.8" y1="139.89999999999998" x2="265.0" y2="139.89999999999998" stroke="#222" stroke-width="0.6"/>
<line x1="262.8" y1="141.8" x2="265.0" y2="141.8" stroke="#222" stroke-width="0.6"/>
<text x="260.5" y="105.5" font-size="3.4" text-anchor="end" fill="#555" style="stroke:none">10<tspan dy='-1' font-size='2.2'>5</tspan></text>
<text x="260.5" y="115.39999999999999" font-size="3.4" text-anchor="end" fill="#555" style="stroke:none">10<tspan dy='-1' font-size='2.2'>4</tspan></text>
<text x="260.5" y="126.89999999999999" font-size="3.4" text-anchor="end" fill="#555" style="stroke:none">10<tspan dy='-1' font-size='2.2'>3</tspan></text>
<text x="260.5" y="134.89999999999998" font-size="3.4" text-anchor="end" fill="#555" style="stroke:none">0</text>
<text x="260.5" y="142.0" font-size="3.4" text-anchor="end" fill="#555" style="stroke:none">-10<tspan dy='-1' font-size='2.2'>3</tspan></text>
<text transform="translate(251.8,122.1) rotate(-90)" font-size="3.6" text-anchor="middle" textLength="36.5" lengthAdjust="spacingAndGlyphs" fill="#3a3a3a" style="stroke:#3a3a3a;stroke-width:0.08px">Comp-FITC-A :: PD-1</text>
<line x1="267.2" y1="143.6" x2="267.2" y2="146.6" stroke="#000" stroke-width="1.0"/>
<line x1="274.0" y1="143.6" x2="274.0" y2="146.6" stroke="#000" stroke-width="1.0"/>
<line x1="281.3" y1="143.6" x2="281.3" y2="146.6" stroke="#000" stroke-width="1.0"/>
<line x1="293.5" y1="143.6" x2="293.5" y2="146.6" stroke="#000" stroke-width="1.0"/>
<line x1="302.2" y1="143.6" x2="302.2" y2="146.6" stroke="#000" stroke-width="1.0"/>
<line x1="266.2" y1="143.6" x2="266.2" y2="145.79999999999998" stroke="#222" stroke-width="0.6"/>
<line x1="268.3" y1="143.6" x2="268.3" y2="145.79999999999998" stroke="#222" stroke-width="0.6"/>
<line x1="269.4" y1="143.6" x2="269.4" y2="145.79999999999998" stroke="#222" stroke-width="0.6"/>
<line x1="270.5" y1="143.6" x2="270.5" y2="145.79999999999998" stroke="#222" stroke-width="0.6"/>
<line x1="271.6" y1="143.6" x2="271.6" y2="145.79999999999998" stroke="#222" stroke-width="0.6"/>
<line x1="272.8" y1="143.6" x2="272.8" y2="145.79999999999998" stroke="#222" stroke-width="0.6"/>
<line x1="275.2" y1="143.6" x2="275.2" y2="145.79999999999998" stroke="#222" stroke-width="0.6"/>
<line x1="276.3" y1="143.6" x2="276.3" y2="145.79999999999998" stroke="#222" stroke-width="0.6"/>
<line x1="277.4" y1="143.6" x2="277.4" y2="145.79999999999998" stroke="#222" stroke-width="0.6"/>
<line x1="278.4" y1="143.6" x2="278.4" y2="145.79999999999998" stroke="#222" stroke-width="0.6"/>
<line x1="279.6" y1="143.6" x2="279.6" y2="145.79999999999998" stroke="#222" stroke-width="0.6"/>
<line x1="280.5" y1="143.6" x2="280.5" y2="145.79999999999998" stroke="#222" stroke-width="0.6"/>
<line x1="284.4" y1="143.6" x2="284.4" y2="145.79999999999998" stroke="#222" stroke-width="0.6"/>
<line x1="286.3" y1="143.6" x2="286.3" y2="145.79999999999998" stroke="#222" stroke-width="0.6"/>
<line x1="287.8" y1="143.6" x2="287.8" y2="145.79999999999998" stroke="#222" stroke-width="0.6"/>
<line x1="289.0" y1="143.6" x2="289.0" y2="145.79999999999998" stroke="#222" stroke-width="0.6"/>
<line x1="290.1" y1="143.6" x2="290.1" y2="145.79999999999998" stroke="#222" stroke-width="0.6"/>
<line x1="291.1" y1="143.6" x2="291.1" y2="145.79999999999998" stroke="#222" stroke-width="0.6"/>
<line x1="292.0" y1="143.6" x2="292.0" y2="145.79999999999998" stroke="#222" stroke-width="0.6"/>
<line x1="292.8" y1="143.6" x2="292.8" y2="145.79999999999998" stroke="#222" stroke-width="0.6"/>
<line x1="296.6" y1="143.6" x2="296.6" y2="145.79999999999998" stroke="#222" stroke-width="0.6"/>
<line x1="298.4" y1="143.6" x2="298.4" y2="145.79999999999998" stroke="#222" stroke-width="0.6"/>
<line x1="299.8" y1="143.6" x2="299.8" y2="145.79999999999998" stroke="#222" stroke-width="0.6"/>
<line x1="300.9" y1="143.6" x2="300.9" y2="145.79999999999998" stroke="#222" stroke-width="0.6"/>
<line x1="301.6" y1="143.6" x2="301.6" y2="145.79999999999998" stroke="#222" stroke-width="0.6"/>
<line x1="304.6" y1="143.6" x2="304.6" y2="145.79999999999998" stroke="#222" stroke-width="0.6"/>
<line x1="306.0" y1="143.6" x2="306.0" y2="145.79999999999998" stroke="#222" stroke-width="0.6"/>
<line x1="307.2" y1="143.6" x2="307.2" y2="145.79999999999998" stroke="#222" stroke-width="0.6"/>
<text x="267.2" y="151.2" font-size="3.4" text-anchor="middle" fill="#555" style="stroke:none">-10<tspan dy='-1' font-size='2.2'>3</tspan></text>
<text x="274.0" y="151.2" font-size="3.4" text-anchor="middle" fill="#555" style="stroke:none">0</text>
<text x="281.3" y="151.2" font-size="3.4" text-anchor="middle" fill="#555" style="stroke:none">10<tspan dy='-1' font-size='2.2'>3</tspan></text>
<text x="293.5" y="151.2" font-size="3.4" text-anchor="middle" fill="#555" style="stroke:none">10<tspan dy='-1' font-size='2.2'>4</tspan></text>
<text x="302.2" y="151.2" font-size="3.4" text-anchor="middle" fill="#555" style="stroke:none">10<tspan dy='-1' font-size='2.2'>5</tspan></text>
<rect x="331.8" y="100.6" width="43.3" height="43.0" fill="none" stroke="#111" stroke-width="1.3"/>
<line x1="328.8" y1="104.3" x2="331.8" y2="104.3" stroke="#000" stroke-width="1.0"/>
<line x1="328.8" y1="114.19999999999999" x2="331.8" y2="114.19999999999999" stroke="#000" stroke-width="1.0"/>
<line x1="328.8" y1="125.69999999999999" x2="331.8" y2="125.69999999999999" stroke="#000" stroke-width="1.0"/>
<line x1="328.8" y1="133.7" x2="331.8" y2="133.7" stroke="#000" stroke-width="1.0"/>
<line x1="328.8" y1="140.8" x2="331.8" y2="140.8" stroke="#000" stroke-width="1.0"/>
<line x1="329.6" y1="101.8" x2="331.8" y2="101.8" stroke="#222" stroke-width="0.6"/>
<line x1="329.6" y1="103.0" x2="331.8" y2="103.0" stroke="#222" stroke-width="0.6"/>
<line x1="329.6" y1="106.1" x2="331.8" y2="106.1" stroke="#222" stroke-width="0.6"/>
<line x1="329.6" y1="107.8" x2="331.8" y2="107.8" stroke="#222" stroke-width="0.6"/>
<line x1="329.6" y1="109.19999999999999" x2="331.8" y2="109.19999999999999" stroke="#222" stroke-width="0.6"/>
<line x1="329.6" y1="110.39999999999999" x2="331.8" y2="110.39999999999999" stroke="#222" stroke-width="0.6"/>
<line x1="329.6" y1="111.5" x2="331.8" y2="111.5" stroke="#222" stroke-width="0.6"/>
<line x1="329.6" y1="112.39999999999999" x2="331.8" y2="112.39999999999999" stroke="#222" stroke-width="0.6"/>
<line x1="329.6" y1="113.3" x2="331.8" y2="113.3" stroke="#222" stroke-width="0.6"/>
<line x1="329.6" y1="116.0" x2="331.8" y2="116.0" stroke="#222" stroke-width="0.6"/>
<line x1="329.6" y1="117.69999999999999" x2="331.8" y2="117.69999999999999" stroke="#222" stroke-width="0.6"/>
<line x1="329.6" y1="119.1" x2="331.8" y2="119.1" stroke="#222" stroke-width="0.6"/>
<line x1="329.6" y1="120.3" x2="331.8" y2="120.3" stroke="#222" stroke-width="0.6"/>
<line x1="329.6" y1="121.39999999999999" x2="331.8" y2="121.39999999999999" stroke="#222" stroke-width="0.6"/>
<line x1="329.6" y1="122.39999999999999" x2="331.8" y2="122.39999999999999" stroke="#222" stroke-width="0.6"/>
<line x1="329.6" y1="123.19999999999999" x2="331.8" y2="123.19999999999999" stroke="#222" stroke-width="0.6"/>
<line x1="329.6" y1="124.0" x2="331.8" y2="124.0" stroke="#222" stroke-width="0.6"/>
<line x1="329.6" y1="124.8" x2="331.8" y2="124.8" stroke="#222" stroke-width="0.6"/>
<line x1="329.6" y1="127.6" x2="331.8" y2="127.6" stroke="#222" stroke-width="0.6"/>
<line x1="329.6" y1="129.6" x2="331.8" y2="129.6" stroke="#222" stroke-width="0.6"/>
<line x1="329.6" y1="131.1" x2="331.8" y2="131.1" stroke="#222" stroke-width="0.6"/>
<line x1="329.6" y1="132.4" x2="331.8" y2="132.4" stroke="#222" stroke-width="0.6"/>
<line x1="329.6" y1="135.0" x2="331.8" y2="135.0" stroke="#222" stroke-width="0.6"/>
<line x1="329.6" y1="136.2" x2="331.8" y2="136.2" stroke="#222" stroke-width="0.6"/>
<line x1="329.6" y1="137.39999999999998" x2="331.8" y2="137.39999999999998" stroke="#222" stroke-width="0.6"/>
<line x1="329.6" y1="138.8" x2="331.8" y2="138.8" stroke="#222" stroke-width="0.6"/>
<line x1="329.6" y1="139.89999999999998" x2="331.8" y2="139.89999999999998" stroke="#222" stroke-width="0.6"/>
<line x1="329.6" y1="141.8" x2="331.8" y2="141.8" stroke="#222" stroke-width="0.6"/>
<text x="327.3" y="105.5" font-size="3.4" text-anchor="end" fill="#555" style="stroke:none">10<tspan dy='-1' font-size='2.2'>5</tspan></text>
<text x="327.3" y="115.39999999999999" font-size="3.4" text-anchor="end" fill="#555" style="stroke:none">10<tspan dy='-1' font-size='2.2'>4</tspan></text>
<text x="327.3" y="126.89999999999999" font-size="3.4" text-anchor="end" fill="#555" style="stroke:none">10<tspan dy='-1' font-size='2.2'>3</tspan></text>
<text x="327.3" y="134.89999999999998" font-size="3.4" text-anchor="end" fill="#555" style="stroke:none">0</text>
<text x="327.3" y="142.0" font-size="3.4" text-anchor="end" fill="#555" style="stroke:none">-10<tspan dy='-1' font-size='2.2'>3</tspan></text>
<text transform="translate(318.6,122.1) rotate(-90)" font-size="3.6" text-anchor="middle" textLength="36.5" lengthAdjust="spacingAndGlyphs" fill="#3a3a3a" style="stroke:#3a3a3a;stroke-width:0.08px">Comp-FITC-A :: PD-1</text>
<line x1="334.0" y1="143.6" x2="334.0" y2="146.6" stroke="#000" stroke-width="1.0"/>
<line x1="340.8" y1="143.6" x2="340.8" y2="146.6" stroke="#000" stroke-width="1.0"/>
<line x1="348.1" y1="143.6" x2="348.1" y2="146.6" stroke="#000" stroke-width="1.0"/>
<line x1="360.3" y1="143.6" x2="360.3" y2="146.6" stroke="#000" stroke-width="1.0"/>
<line x1="369.0" y1="143.6" x2="369.0" y2="146.6" stroke="#000" stroke-width="1.0"/>
<line x1="333.0" y1="143.6" x2="333.0" y2="145.79999999999998" stroke="#222" stroke-width="0.6"/>
<line x1="335.1" y1="143.6" x2="335.1" y2="145.79999999999998" stroke="#222" stroke-width="0.6"/>
<line x1="336.2" y1="143.6" x2="336.2" y2="145.79999999999998" stroke="#222" stroke-width="0.6"/>
<line x1="337.3" y1="143.6" x2="337.3" y2="145.79999999999998" stroke="#222" stroke-width="0.6"/>
<line x1="338.40000000000003" y1="143.6" x2="338.40000000000003" y2="145.79999999999998" stroke="#222" stroke-width="0.6"/>
<line x1="339.6" y1="143.6" x2="339.6" y2="145.79999999999998" stroke="#222" stroke-width="0.6"/>
<line x1="342.0" y1="143.6" x2="342.0" y2="145.79999999999998" stroke="#222" stroke-width="0.6"/>
<line x1="343.1" y1="143.6" x2="343.1" y2="145.79999999999998" stroke="#222" stroke-width="0.6"/>
<line x1="344.2" y1="143.6" x2="344.2" y2="145.79999999999998" stroke="#222" stroke-width="0.6"/>
<line x1="345.2" y1="143.6" x2="345.2" y2="145.79999999999998" stroke="#222" stroke-width="0.6"/>
<line x1="346.40000000000003" y1="143.6" x2="346.40000000000003" y2="145.79999999999998" stroke="#222" stroke-width="0.6"/>
<line x1="347.3" y1="143.6" x2="347.3" y2="145.79999999999998" stroke="#222" stroke-width="0.6"/>
<line x1="351.2" y1="143.6" x2="351.2" y2="145.79999999999998" stroke="#222" stroke-width="0.6"/>
<line x1="353.1" y1="143.6" x2="353.1" y2="145.79999999999998" stroke="#222" stroke-width="0.6"/>
<line x1="354.6" y1="143.6" x2="354.6" y2="145.79999999999998" stroke="#222" stroke-width="0.6"/>
<line x1="355.8" y1="143.6" x2="355.8" y2="145.79999999999998" stroke="#222" stroke-width="0.6"/>
<line x1="356.90000000000003" y1="143.6" x2="356.90000000000003" y2="145.79999999999998" stroke="#222" stroke-width="0.6"/>
<line x1="357.90000000000003" y1="143.6" x2="357.90000000000003" y2="145.79999999999998" stroke="#222" stroke-width="0.6"/>
<line x1="358.8" y1="143.6" x2="358.8" y2="145.79999999999998" stroke="#222" stroke-width="0.6"/>
<line x1="359.6" y1="143.6" x2="359.6" y2="145.79999999999998" stroke="#222" stroke-width="0.6"/>
<line x1="363.40000000000003" y1="143.6" x2="363.40000000000003" y2="145.79999999999998" stroke="#222" stroke-width="0.6"/>
<line x1="365.2" y1="143.6" x2="365.2" y2="145.79999999999998" stroke="#222" stroke-width="0.6"/>
<line x1="366.6" y1="143.6" x2="366.6" y2="145.79999999999998" stroke="#222" stroke-width="0.6"/>
<line x1="367.7" y1="143.6" x2="367.7" y2="145.79999999999998" stroke="#222" stroke-width="0.6"/>
<line x1="368.40000000000003" y1="143.6" x2="368.40000000000003" y2="145.79999999999998" stroke="#222" stroke-width="0.6"/>
<line x1="371.40000000000003" y1="143.6" x2="371.40000000000003" y2="145.79999999999998" stroke="#222" stroke-width="0.6"/>
<line x1="372.8" y1="143.6" x2="372.8" y2="145.79999999999998" stroke="#222" stroke-width="0.6"/>
<line x1="374.0" y1="143.6" x2="374.0" y2="145.79999999999998" stroke="#222" stroke-width="0.6"/>
<text x="334.0" y="151.2" font-size="3.4" text-anchor="middle" fill="#555" style="stroke:none">-10<tspan dy='-1' font-size='2.2'>3</tspan></text>
<text x="340.8" y="151.2" font-size="3.4" text-anchor="middle" fill="#555" style="stroke:none">0</text>
<text x="348.1" y="151.2" font-size="3.4" text-anchor="middle" fill="#555" style="stroke:none">10<tspan dy='-1' font-size='2.2'>3</tspan></text>
<text x="360.3" y="151.2" font-size="3.4" text-anchor="middle" fill="#555" style="stroke:none">10<tspan dy='-1' font-size='2.2'>4</tspan></text>
<text x="369.0" y="151.2" font-size="3.4" text-anchor="middle" fill="#555" style="stroke:none">10<tspan dy='-1' font-size='2.2'>5</tspan></text>
<rect x="399.4" y="100.6" width="43.3" height="43.0" fill="none" stroke="#111" stroke-width="1.3"/>
<line x1="396.4" y1="104.3" x2="399.4" y2="104.3" stroke="#000" stroke-width="1.0"/>
<line x1="396.4" y1="114.19999999999999" x2="399.4" y2="114.19999999999999" stroke="#000" stroke-width="1.0"/>
<line x1="396.4" y1="125.69999999999999" x2="399.4" y2="125.69999999999999" stroke="#000" stroke-width="1.0"/>
<line x1="396.4" y1="133.7" x2="399.4" y2="133.7" stroke="#000" stroke-width="1.0"/>
<line x1="396.4" y1="140.8" x2="399.4" y2="140.8" stroke="#000" stroke-width="1.0"/>
<line x1="397.2" y1="101.8" x2="399.4" y2="101.8" stroke="#222" stroke-width="0.6"/>
<line x1="397.2" y1="103.0" x2="399.4" y2="103.0" stroke="#222" stroke-width="0.6"/>
<line x1="397.2" y1="106.1" x2="399.4" y2="106.1" stroke="#222" stroke-width="0.6"/>
<line x1="397.2" y1="107.8" x2="399.4" y2="107.8" stroke="#222" stroke-width="0.6"/>
<line x1="397.2" y1="109.19999999999999" x2="399.4" y2="109.19999999999999" stroke="#222" stroke-width="0.6"/>
<line x1="397.2" y1="110.39999999999999" x2="399.4" y2="110.39999999999999" stroke="#222" stroke-width="0.6"/>
<line x1="397.2" y1="111.5" x2="399.4" y2="111.5" stroke="#222" stroke-width="0.6"/>
<line x1="397.2" y1="112.39999999999999" x2="399.4" y2="112.39999999999999" stroke="#222" stroke-width="0.6"/>
<line x1="397.2" y1="113.3" x2="399.4" y2="113.3" stroke="#222" stroke-width="0.6"/>
<line x1="397.2" y1="116.0" x2="399.4" y2="116.0" stroke="#222" stroke-width="0.6"/>
<line x1="397.2" y1="117.69999999999999" x2="399.4" y2="117.69999999999999" stroke="#222" stroke-width="0.6"/>
<line x1="397.2" y1="119.1" x2="399.4" y2="119.1" stroke="#222" stroke-width="0.6"/>
<line x1="397.2" y1="120.3" x2="399.4" y2="120.3" stroke="#222" stroke-width="0.6"/>
<line x1="397.2" y1="121.39999999999999" x2="399.4" y2="121.39999999999999" stroke="#222" stroke-width="0.6"/>
<line x1="397.2" y1="122.39999999999999" x2="399.4" y2="122.39999999999999" stroke="#222" stroke-width="0.6"/>
<line x1="397.2" y1="123.19999999999999" x2="399.4" y2="123.19999999999999" stroke="#222" stroke-width="0.6"/>
<line x1="397.2" y1="124.0" x2="399.4" y2="124.0" stroke="#222" stroke-width="0.6"/>
<line x1="397.2" y1="124.8" x2="399.4" y2="124.8" stroke="#222" stroke-width="0.6"/>
<line x1="397.2" y1="127.6" x2="399.4" y2="127.6" stroke="#222" stroke-width="0.6"/>
<line x1="397.2" y1="129.6" x2="399.4" y2="129.6" stroke="#222" stroke-width="0.6"/>
<line x1="397.2" y1="131.1" x2="399.4" y2="131.1" stroke="#222" stroke-width="0.6"/>
<line x1="397.2" y1="132.4" x2="399.4" y2="132.4" stroke="#222" stroke-width="0.6"/>
<line x1="397.2" y1="135.0" x2="399.4" y2="135.0" stroke="#222" stroke-width="0.6"/>
<line x1="397.2" y1="136.2" x2="399.4" y2="136.2" stroke="#222" stroke-width="0.6"/>
<line x1="397.2" y1="137.39999999999998" x2="399.4" y2="137.39999999999998" stroke="#222" stroke-width="0.6"/>
<line x1="397.2" y1="138.8" x2="399.4" y2="138.8" stroke="#222" stroke-width="0.6"/>
<line x1="397.2" y1="139.89999999999998" x2="399.4" y2="139.89999999999998" stroke="#222" stroke-width="0.6"/>
<line x1="397.2" y1="141.8" x2="399.4" y2="141.8" stroke="#222" stroke-width="0.6"/>
<text x="394.9" y="105.5" font-size="3.4" text-anchor="end" fill="#555" style="stroke:none">10<tspan dy='-1' font-size='2.2'>5</tspan></text>
<text x="394.9" y="115.39999999999999" font-size="3.4" text-anchor="end" fill="#555" style="stroke:none">10<tspan dy='-1' font-size='2.2'>4</tspan></text>
<text x="394.9" y="126.89999999999999" font-size="3.4" text-anchor="end" fill="#555" style="stroke:none">10<tspan dy='-1' font-size='2.2'>3</tspan></text>
<text x="394.9" y="134.89999999999998" font-size="3.4" text-anchor="end" fill="#555" style="stroke:none">0</text>
<text x="394.9" y="142.0" font-size="3.4" text-anchor="end" fill="#555" style="stroke:none">-10<tspan dy='-1' font-size='2.2'>3</tspan></text>
<text transform="translate(386.2,122.1) rotate(-90)" font-size="3.6" text-anchor="middle" textLength="36.5" lengthAdjust="spacingAndGlyphs" fill="#3a3a3a" style="stroke:#3a3a3a;stroke-width:0.08px">Comp-FITC-A :: PD-1</text>
<line x1="401.59999999999997" y1="143.6" x2="401.59999999999997" y2="146.6" stroke="#000" stroke-width="1.0"/>
<line x1="408.4" y1="143.6" x2="408.4" y2="146.6" stroke="#000" stroke-width="1.0"/>
<line x1="415.7" y1="143.6" x2="415.7" y2="146.6" stroke="#000" stroke-width="1.0"/>
<line x1="427.9" y1="143.6" x2="427.9" y2="146.6" stroke="#000" stroke-width="1.0"/>
<line x1="436.59999999999997" y1="143.6" x2="436.59999999999997" y2="146.6" stroke="#000" stroke-width="1.0"/>
<line x1="400.59999999999997" y1="143.6" x2="400.59999999999997" y2="145.79999999999998" stroke="#222" stroke-width="0.6"/>
<line x1="402.7" y1="143.6" x2="402.7" y2="145.79999999999998" stroke="#222" stroke-width="0.6"/>
<line x1="403.79999999999995" y1="143.6" x2="403.79999999999995" y2="145.79999999999998" stroke="#222" stroke-width="0.6"/>
<line x1="404.9" y1="143.6" x2="404.9" y2="145.79999999999998" stroke="#222" stroke-width="0.6"/>
<line x1="406.0" y1="143.6" x2="406.0" y2="145.79999999999998" stroke="#222" stroke-width="0.6"/>
<line x1="407.2" y1="143.6" x2="407.2" y2="145.79999999999998" stroke="#222" stroke-width="0.6"/>
<line x1="409.59999999999997" y1="143.6" x2="409.59999999999997" y2="145.79999999999998" stroke="#222" stroke-width="0.6"/>
<line x1="410.7" y1="143.6" x2="410.7" y2="145.79999999999998" stroke="#222" stroke-width="0.6"/>
<line x1="411.79999999999995" y1="143.6" x2="411.79999999999995" y2="145.79999999999998" stroke="#222" stroke-width="0.6"/>
<line x1="412.79999999999995" y1="143.6" x2="412.79999999999995" y2="145.79999999999998" stroke="#222" stroke-width="0.6"/>
<line x1="414.0" y1="143.6" x2="414.0" y2="145.79999999999998" stroke="#222" stroke-width="0.6"/>
<line x1="414.9" y1="143.6" x2="414.9" y2="145.79999999999998" stroke="#222" stroke-width="0.6"/>
<line x1="418.79999999999995" y1="143.6" x2="418.79999999999995" y2="145.79999999999998" stroke="#222" stroke-width="0.6"/>
<line x1="420.7" y1="143.6" x2="420.7" y2="145.79999999999998" stroke="#222" stroke-width="0.6"/>
<line x1="422.2" y1="143.6" x2="422.2" y2="145.79999999999998" stroke="#222" stroke-width="0.6"/>
<line x1="423.4" y1="143.6" x2="423.4" y2="145.79999999999998" stroke="#222" stroke-width="0.6"/>
<line x1="424.5" y1="143.6" x2="424.5" y2="145.79999999999998" stroke="#222" stroke-width="0.6"/>
<line x1="425.5" y1="143.6" x2="425.5" y2="145.79999999999998" stroke="#222" stroke-width="0.6"/>
<line x1="426.4" y1="143.6" x2="426.4" y2="145.79999999999998" stroke="#222" stroke-width="0.6"/>
<line x1="427.2" y1="143.6" x2="427.2" y2="145.79999999999998" stroke="#222" stroke-width="0.6"/>
<line x1="431.0" y1="143.6" x2="431.0" y2="145.79999999999998" stroke="#222" stroke-width="0.6"/>
<line x1="432.79999999999995" y1="143.6" x2="432.79999999999995" y2="145.79999999999998" stroke="#222" stroke-width="0.6"/>
<line x1="434.2" y1="143.6" x2="434.2" y2="145.79999999999998" stroke="#222" stroke-width="0.6"/>
<line x1="435.29999999999995" y1="143.6" x2="435.29999999999995" y2="145.79999999999998" stroke="#222" stroke-width="0.6"/>
<line x1="436.0" y1="143.6" x2="436.0" y2="145.79999999999998" stroke="#222" stroke-width="0.6"/>
<line x1="439.0" y1="143.6" x2="439.0" y2="145.79999999999998" stroke="#222" stroke-width="0.6"/>
<line x1="440.4" y1="143.6" x2="440.4" y2="145.79999999999998" stroke="#222" stroke-width="0.6"/>
<line x1="441.59999999999997" y1="143.6" x2="441.59999999999997" y2="145.79999999999998" stroke="#222" stroke-width="0.6"/>
<text x="401.59999999999997" y="151.2" font-size="3.4" text-anchor="middle" fill="#555" style="stroke:none">-10<tspan dy='-1' font-size='2.2'>3</tspan></text>
<text x="408.4" y="151.2" font-size="3.4" text-anchor="middle" fill="#555" style="stroke:none">0</text>
<text x="415.7" y="151.2" font-size="3.4" text-anchor="middle" fill="#555" style="stroke:none">10<tspan dy='-1' font-size='2.2'>3</tspan></text>
<text x="427.9" y="151.2" font-size="3.4" text-anchor="middle" fill="#555" style="stroke:none">10<tspan dy='-1' font-size='2.2'>4</tspan></text>
<text x="436.59999999999997" y="151.2" font-size="3.4" text-anchor="middle" fill="#555" style="stroke:none">10<tspan dy='-1' font-size='2.2'>5</tspan></text>
<rect x="466.3" y="100.6" width="43.3" height="43.0" fill="none" stroke="#111" stroke-width="1.3"/>
<line x1="463.3" y1="104.3" x2="466.3" y2="104.3" stroke="#000" stroke-width="1.0"/>
<line x1="463.3" y1="114.19999999999999" x2="466.3" y2="114.19999999999999" stroke="#000" stroke-width="1.0"/>
<line x1="463.3" y1="125.69999999999999" x2="466.3" y2="125.69999999999999" stroke="#000" stroke-width="1.0"/>
<line x1="463.3" y1="133.7" x2="466.3" y2="133.7" stroke="#000" stroke-width="1.0"/>
<line x1="463.3" y1="140.8" x2="466.3" y2="140.8" stroke="#000" stroke-width="1.0"/>
<line x1="464.1" y1="101.8" x2="466.3" y2="101.8" stroke="#222" stroke-width="0.6"/>
<line x1="464.1" y1="103.0" x2="466.3" y2="103.0" stroke="#222" stroke-width="0.6"/>
<line x1="464.1" y1="106.1" x2="466.3" y2="106.1" stroke="#222" stroke-width="0.6"/>
<line x1="464.1" y1="107.8" x2="466.3" y2="107.8" stroke="#222" stroke-width="0.6"/>
<line x1="464.1" y1="109.19999999999999" x2="466.3" y2="109.19999999999999" stroke="#222" stroke-width="0.6"/>
<line x1="464.1" y1="110.39999999999999" x2="466.3" y2="110.39999999999999" stroke="#222" stroke-width="0.6"/>
<line x1="464.1" y1="111.5" x2="466.3" y2="111.5" stroke="#222" stroke-width="0.6"/>
<line x1="464.1" y1="112.39999999999999" x2="466.3" y2="112.39999999999999" stroke="#222" stroke-width="0.6"/>
<line x1="464.1" y1="113.3" x2="466.3" y2="113.3" stroke="#222" stroke-width="0.6"/>
<line x1="464.1" y1="116.0" x2="466.3" y2="116.0" stroke="#222" stroke-width="0.6"/>
<line x1="464.1" y1="117.69999999999999" x2="466.3" y2="117.69999999999999" stroke="#222" stroke-width="0.6"/>
<line x1="464.1" y1="119.1" x2="466.3" y2="119.1" stroke="#222" stroke-width="0.6"/>
<line x1="464.1" y1="120.3" x2="466.3" y2="120.3" stroke="#222" stroke-width="0.6"/>
<line x1="464.1" y1="121.39999999999999" x2="466.3" y2="121.39999999999999" stroke="#222" stroke-width="0.6"/>
<line x1="464.1" y1="122.39999999999999" x2="466.3" y2="122.39999999999999" stroke="#222" stroke-width="0.6"/>
<line x1="464.1" y1="123.19999999999999" x2="466.3" y2="123.19999999999999" stroke="#222" stroke-width="0.6"/>
<line x1="464.1" y1="124.0" x2="466.3" y2="124.0" stroke="#222" stroke-width="0.6"/>
<line x1="464.1" y1="124.8" x2="466.3" y2="124.8" stroke="#222" stroke-width="0.6"/>
<line x1="464.1" y1="127.6" x2="466.3" y2="127.6" stroke="#222" stroke-width="0.6"/>
<line x1="464.1" y1="129.6" x2="466.3" y2="129.6" stroke="#222" stroke-width="0.6"/>
<line x1="464.1" y1="131.1" x2="466.3" y2="131.1" stroke="#222" stroke-width="0.6"/>
<line x1="464.1" y1="132.4" x2="466.3" y2="132.4" stroke="#222" stroke-width="0.6"/>
<line x1="464.1" y1="135.0" x2="466.3" y2="135.0" stroke="#222" stroke-width="0.6"/>
<line x1="464.1" y1="136.2" x2="466.3" y2="136.2" stroke="#222" stroke-width="0.6"/>
<line x1="464.1" y1="137.39999999999998" x2="466.3" y2="137.39999999999998" stroke="#222" stroke-width="0.6"/>
<line x1="464.1" y1="138.8" x2="466.3" y2="138.8" stroke="#222" stroke-width="0.6"/>
<line x1="464.1" y1="139.89999999999998" x2="466.3" y2="139.89999999999998" stroke="#222" stroke-width="0.6"/>
<line x1="464.1" y1="141.8" x2="466.3" y2="141.8" stroke="#222" stroke-width="0.6"/>
<text x="461.8" y="105.5" font-size="3.4" text-anchor="end" fill="#555" style="stroke:none">10<tspan dy='-1' font-size='2.2'>5</tspan></text>
<text x="461.8" y="115.39999999999999" font-size="3.4" text-anchor="end" fill="#555" style="stroke:none">10<tspan dy='-1' font-size='2.2'>4</tspan></text>
<text x="461.8" y="126.89999999999999" font-size="3.4" text-anchor="end" fill="#555" style="stroke:none">10<tspan dy='-1' font-size='2.2'>3</tspan></text>
<text x="461.8" y="134.89999999999998" font-size="3.4" text-anchor="end" fill="#555" style="stroke:none">0</text>
<text x="461.8" y="142.0" font-size="3.4" text-anchor="end" fill="#555" style="stroke:none">-10<tspan dy='-1' font-size='2.2'>3</tspan></text>
<text transform="translate(453.1,122.1) rotate(-90)" font-size="3.6" text-anchor="middle" textLength="36.5" lengthAdjust="spacingAndGlyphs" fill="#3a3a3a" style="stroke:#3a3a3a;stroke-width:0.08px">Comp-FITC-A :: PD-1</text>
<line x1="468.5" y1="143.6" x2="468.5" y2="146.6" stroke="#000" stroke-width="1.0"/>
<line x1="475.3" y1="143.6" x2="475.3" y2="146.6" stroke="#000" stroke-width="1.0"/>
<line x1="482.6" y1="143.6" x2="482.6" y2="146.6" stroke="#000" stroke-width="1.0"/>
<line x1="494.8" y1="143.6" x2="494.8" y2="146.6" stroke="#000" stroke-width="1.0"/>
<line x1="503.5" y1="143.6" x2="503.5" y2="146.6" stroke="#000" stroke-width="1.0"/>
<line x1="467.5" y1="143.6" x2="467.5" y2="145.79999999999998" stroke="#222" stroke-width="0.6"/>
<line x1="469.6" y1="143.6" x2="469.6" y2="145.79999999999998" stroke="#222" stroke-width="0.6"/>
<line x1="470.7" y1="143.6" x2="470.7" y2="145.79999999999998" stroke="#222" stroke-width="0.6"/>
<line x1="471.8" y1="143.6" x2="471.8" y2="145.79999999999998" stroke="#222" stroke-width="0.6"/>
<line x1="472.90000000000003" y1="143.6" x2="472.90000000000003" y2="145.79999999999998" stroke="#222" stroke-width="0.6"/>
<line x1="474.1" y1="143.6" x2="474.1" y2="145.79999999999998" stroke="#222" stroke-width="0.6"/>
<line x1="476.5" y1="143.6" x2="476.5" y2="145.79999999999998" stroke="#222" stroke-width="0.6"/>
<line x1="477.6" y1="143.6" x2="477.6" y2="145.79999999999998" stroke="#222" stroke-width="0.6"/>
<line x1="478.7" y1="143.6" x2="478.7" y2="145.79999999999998" stroke="#222" stroke-width="0.6"/>
<line x1="479.7" y1="143.6" x2="479.7" y2="145.79999999999998" stroke="#222" stroke-width="0.6"/>
<line x1="480.90000000000003" y1="143.6" x2="480.90000000000003" y2="145.79999999999998" stroke="#222" stroke-width="0.6"/>
<line x1="481.8" y1="143.6" x2="481.8" y2="145.79999999999998" stroke="#222" stroke-width="0.6"/>
<line x1="485.7" y1="143.6" x2="485.7" y2="145.79999999999998" stroke="#222" stroke-width="0.6"/>
<line x1="487.6" y1="143.6" x2="487.6" y2="145.79999999999998" stroke="#222" stroke-width="0.6"/>
<line x1="489.1" y1="143.6" x2="489.1" y2="145.79999999999998" stroke="#222" stroke-width="0.6"/>
<line x1="490.3" y1="143.6" x2="490.3" y2="145.79999999999998" stroke="#222" stroke-width="0.6"/>
<line x1="491.40000000000003" y1="143.6" x2="491.40000000000003" y2="145.79999999999998" stroke="#222" stroke-width="0.6"/>
<line x1="492.40000000000003" y1="143.6" x2="492.40000000000003" y2="145.79999999999998" stroke="#222" stroke-width="0.6"/>
<line x1="493.3" y1="143.6" x2="493.3" y2="145.79999999999998" stroke="#222" stroke-width="0.6"/>
<line x1="494.1" y1="143.6" x2="494.1" y2="145.79999999999998" stroke="#222" stroke-width="0.6"/>
<line x1="497.90000000000003" y1="143.6" x2="497.90000000000003" y2="145.79999999999998" stroke="#222" stroke-width="0.6"/>
<line x1="499.7" y1="143.6" x2="499.7" y2="145.79999999999998" stroke="#222" stroke-width="0.6"/>
<line x1="501.1" y1="143.6" x2="501.1" y2="145.79999999999998" stroke="#222" stroke-width="0.6"/>
<line x1="502.2" y1="143.6" x2="502.2" y2="145.79999999999998" stroke="#222" stroke-width="0.6"/>
<line x1="502.90000000000003" y1="143.6" x2="502.90000000000003" y2="145.79999999999998" stroke="#222" stroke-width="0.6"/>
<line x1="505.90000000000003" y1="143.6" x2="505.90000000000003" y2="145.79999999999998" stroke="#222" stroke-width="0.6"/>
<line x1="507.3" y1="143.6" x2="507.3" y2="145.79999999999998" stroke="#222" stroke-width="0.6"/>
<line x1="508.5" y1="143.6" x2="508.5" y2="145.79999999999998" stroke="#222" stroke-width="0.6"/>
<text x="468.5" y="151.2" font-size="3.4" text-anchor="middle" fill="#555" style="stroke:none">-10<tspan dy='-1' font-size='2.2'>3</tspan></text>
<text x="475.3" y="151.2" font-size="3.4" text-anchor="middle" fill="#555" style="stroke:none">0</text>
<text x="482.6" y="151.2" font-size="3.4" text-anchor="middle" fill="#555" style="stroke:none">10<tspan dy='-1' font-size='2.2'>3</tspan></text>
<text x="494.8" y="151.2" font-size="3.4" text-anchor="middle" fill="#555" style="stroke:none">10<tspan dy='-1' font-size='2.2'>4</tspan></text>
<text x="503.5" y="151.2" font-size="3.4" text-anchor="middle" fill="#555" style="stroke:none">10<tspan dy='-1' font-size='2.2'>5</tspan></text>
<text x="471.3" y="158.1" font-size="3.6" textLength="33.5" lengthAdjust="spacingAndGlyphs" fill="#3a3a3a" style="stroke:#3a3a3a;stroke-width:0.08px">Comp-PE-A :: TIM3</text>
<path d="M273.20,68.60 C273.23,67.33 274.00,64.02 274.40,62.00 C274.80,59.98 275.17,58.47 275.60,56.50 C276.03,54.53 276.42,51.48 277.00,50.20 C277.58,48.92 278.18,49.08 279.10,48.80 C280.02,48.52 281.75,48.20 282.50,48.50 C283.25,48.80 283.82,49.97 283.60,50.60 C283.38,51.23 281.48,51.67 281.20,52.30 C280.92,52.93 281.15,53.48 281.90,54.40 C282.65,55.32 284.73,56.53 285.70,57.80 C286.67,59.07 287.18,60.90 287.70,62.00 C288.22,63.10 289.43,63.70 288.80,64.40 C288.17,65.10 285.63,65.45 283.90,66.20 C282.17,66.95 280.02,68.33 278.40,68.90 C276.78,69.47 275.07,69.65 274.20,69.60 C273.33,69.55 273.17,69.87 273.20,68.60 Z" fill="#a5a5a5" stroke="#1a1a1a" stroke-width="0.9" stroke-linejoin="round"/>
<path d="M275.20,66.50 C274.87,65.28 275.95,62.00 276.50,60.50 C277.05,59.00 277.58,57.83 278.50,57.50 C279.42,57.17 280.83,57.67 282.00,58.50 C283.17,59.33 285.17,61.42 285.50,62.50 C285.83,63.58 285.17,64.12 284.00,65.00 C282.83,65.88 279.97,67.55 278.50,67.80 C277.03,68.05 275.53,67.72 275.20,66.50 Z" fill="#8c8c8c" stroke="#222" stroke-width="0.7" stroke-linejoin="round"/>
<path d="M276.28,65.81 C276.05,64.96 276.81,62.66 277.19,61.61 C277.57,60.56 277.95,59.74 278.59,59.51 C279.23,59.28 280.22,59.63 281.04,60.21 C281.86,60.79 283.26,62.25 283.49,63.01 C283.72,63.77 283.26,64.14 282.44,64.76 C281.62,65.38 279.62,66.55 278.59,66.72 C277.56,66.89 276.51,66.66 276.28,65.81 Z" fill="#c4c4c4" stroke="#2a2a2a" stroke-width="0.6" stroke-linejoin="round"/>
<path d="M277.18,65.23 C277.03,64.69 277.52,63.21 277.76,62.54 C278.01,61.86 278.25,61.34 278.67,61.19 C279.08,61.04 279.72,61.26 280.24,61.64 C280.76,62.01 281.67,62.95 281.81,63.44 C281.96,63.92 281.66,64.16 281.14,64.56 C280.62,64.96 279.33,65.71 278.67,65.82 C278.00,65.93 277.33,65.78 277.18,65.23 Z" fill="#7a7a7a" stroke="#222" stroke-width="0.55" stroke-linejoin="round"/>
<path d="M278.01,64.71 C277.93,64.44 278.17,63.72 278.29,63.39 C278.41,63.06 278.53,62.80 278.73,62.73 C278.94,62.65 279.25,62.76 279.50,62.95 C279.76,63.13 280.20,63.59 280.27,63.83 C280.35,64.06 280.20,64.18 279.94,64.38 C279.69,64.57 279.06,64.94 278.73,64.99 C278.41,65.05 278.08,64.97 278.01,64.71 Z" fill="#3a3a3a" stroke="#222" stroke-width="0.4" stroke-linejoin="round"/>
<path d="M277.60,51.00 C277.98,50.27 278.73,49.85 279.50,49.60 C280.27,49.35 281.68,49.33 282.20,49.50 C282.72,49.67 282.90,50.18 282.60,50.60 C282.30,51.02 280.73,51.27 280.40,52.00 C280.07,52.73 280.97,54.25 280.60,55.00 C280.23,55.75 278.77,56.67 278.20,56.50 C277.63,56.33 277.30,54.92 277.20,54.00 C277.10,53.08 277.22,51.73 277.60,51.00 Z" fill="#c2c2c2" stroke="#2a2a2a" stroke-width="0.6" stroke-linejoin="round"/>
<path d="M283.50,53.20 C283.67,52.77 285.13,52.47 285.60,52.60 C286.07,52.73 286.47,53.57 286.30,54.00 C286.13,54.43 285.07,55.33 284.60,55.20 C284.13,55.07 283.33,53.63 283.50,53.20 Z" fill="#9a9a9a" stroke="#1a1a1a" stroke-width="0.6" stroke-linejoin="round"/>
<path d="M286.40,52.80 C286.53,52.37 287.90,51.83 288.40,51.90 C288.90,51.97 289.53,52.77 289.40,53.20 C289.27,53.63 288.10,54.57 287.60,54.50 C287.10,54.43 286.27,53.23 286.40,52.80 Z" fill="#9a9a9a" stroke="#1a1a1a" stroke-width="0.6" stroke-linejoin="round"/>
<path d="M300.19,49.35 C300.41,49.77 300.44,50.35 300.27,50.92 C300.10,51.49 299.70,52.16 299.18,52.76 C298.66,53.36 297.92,54.00 297.15,54.51 C296.38,55.02 295.44,55.50 294.57,55.82 C293.71,56.14 292.75,56.37 291.96,56.44 C291.17,56.51 290.39,56.43 289.83,56.23 C289.27,56.04 288.83,55.68 288.61,55.25 C288.39,54.83 288.36,54.25 288.53,53.68 C288.70,53.11 289.10,52.44 289.62,51.84 C290.14,51.24 290.88,50.60 291.65,50.09 C292.42,49.58 293.36,49.10 294.23,48.78 C295.09,48.46 296.05,48.23 296.84,48.16 C297.63,48.09 298.41,48.17 298.97,48.37 C299.53,48.56 299.97,48.92 300.19,49.35 Z" fill="#a0a0a0" stroke="#1a1a1a" stroke-width="0.9" stroke-linejoin="round"/>
<path d="M298.64,50.11 C298.81,50.43 298.83,50.86 298.70,51.29 C298.57,51.71 298.28,52.22 297.89,52.67 C297.50,53.12 296.94,53.60 296.36,53.98 C295.79,54.37 295.08,54.73 294.43,54.97 C293.78,55.21 293.06,55.38 292.47,55.43 C291.88,55.48 291.29,55.42 290.87,55.28 C290.46,55.13 290.12,54.86 289.96,54.54 C289.79,54.22 289.77,53.79 289.90,53.36 C290.03,52.94 290.32,52.43 290.71,51.98 C291.10,51.53 291.66,51.05 292.24,50.67 C292.81,50.28 293.52,49.92 294.17,49.68 C294.82,49.44 295.54,49.27 296.13,49.22 C296.72,49.17 297.31,49.23 297.73,49.37 C298.14,49.52 298.48,49.79 298.64,50.11 Z" fill="#c8c8c8" stroke="#2a2a2a" stroke-width="0.6" stroke-linejoin="round"/>
<path d="M297.10,50.87 C297.20,51.09 297.22,51.37 297.13,51.66 C297.05,51.94 296.85,52.28 296.59,52.58 C296.33,52.88 295.96,53.20 295.57,53.45 C295.19,53.71 294.72,53.95 294.29,54.11 C293.85,54.27 293.38,54.39 292.98,54.42 C292.59,54.45 292.20,54.42 291.92,54.32 C291.64,54.22 291.41,54.04 291.30,53.83 C291.20,53.61 291.18,53.33 291.27,53.04 C291.35,52.76 291.55,52.42 291.81,52.12 C292.07,51.82 292.44,51.50 292.83,51.25 C293.21,50.99 293.68,50.75 294.11,50.59 C294.55,50.43 295.02,50.31 295.42,50.28 C295.81,50.25 296.20,50.28 296.48,50.38 C296.76,50.48 296.99,50.66 297.10,50.87 Z" fill="#5a5a5a" stroke="#222" stroke-width="0.5" stroke-linejoin="round"/>
<path d="M295.73,51.55 C295.79,51.66 295.80,51.83 295.76,51.98 C295.71,52.14 295.60,52.33 295.45,52.50 C295.31,52.67 295.10,52.85 294.88,52.99 C294.67,53.13 294.40,53.27 294.16,53.36 C293.92,53.45 293.65,53.51 293.43,53.53 C293.21,53.55 292.99,53.53 292.83,53.47 C292.68,53.42 292.55,53.32 292.49,53.20 C292.43,53.08 292.42,52.92 292.47,52.76 C292.52,52.60 292.63,52.41 292.77,52.24 C292.92,52.08 293.13,51.90 293.34,51.75 C293.56,51.61 293.82,51.48 294.06,51.39 C294.31,51.30 294.57,51.23 294.80,51.21 C295.02,51.19 295.23,51.21 295.39,51.27 C295.55,51.33 295.67,51.43 295.73,51.55 Z" fill="#1e1e1e" stroke="#111" stroke-width="0.4" stroke-linejoin="round"/>
<circle cx="294.4" cy="51.9" r="0.45" fill="#d0d0d0"/>
<path d="M337.80,67.50 C338.15,65.88 339.40,62.08 340.20,59.90 C341.00,57.72 341.73,55.90 342.60,54.40 C343.47,52.90 343.90,51.77 345.40,50.90 C346.90,50.03 349.52,49.63 351.60,49.20 C353.68,48.77 356.22,48.25 357.90,48.30 C359.58,48.35 360.95,48.95 361.70,49.50 C362.45,50.05 362.70,50.55 362.40,51.60 C362.10,52.65 361.00,54.75 359.90,55.80 C358.80,56.85 357.12,57.38 355.80,57.90 C354.48,58.42 352.82,58.50 352.00,58.90 C351.18,59.30 350.67,59.67 350.90,60.30 C351.13,60.93 352.77,61.72 353.40,62.70 C354.03,63.68 354.77,65.22 354.70,66.20 C354.63,67.18 354.20,67.92 353.00,68.60 C351.80,69.28 349.58,69.95 347.50,70.30 C345.42,70.65 342.07,70.82 340.50,70.70 C338.93,70.58 338.55,70.13 338.10,69.60 C337.65,69.07 337.45,69.12 337.80,67.50 Z" fill="#b2b2b2" stroke="#0d0d0d" stroke-width="1.2" stroke-linejoin="round"/>
<path d="M340.60,67.50 L343.00,59.50 L346.00,54.80 L351.00,53.50 L356.50,52.60" fill="none" stroke="#8a8a8a" stroke-width="3.2" stroke-linecap="round" stroke-linejoin="round"/>
<path d="M340.60,67.50 L343.00,59.50 L346.00,54.80 L351.00,53.50 L356.50,52.60" fill="none" stroke="#a8a8a8" stroke-width="1.6" stroke-linecap="round" stroke-linejoin="round"/>
<path d="M350.20,51.00 C350.92,50.17 353.93,50.30 355.50,50.20 C357.07,50.10 359.02,49.87 359.60,50.40 C360.18,50.93 359.77,52.53 359.00,53.40 C358.23,54.27 356.30,55.30 355.00,55.60 C353.70,55.90 352.00,55.97 351.20,55.20 C350.40,54.43 349.48,51.83 350.20,51.00 Z" fill="#6a6a6a" stroke="#333" stroke-width="0.5" stroke-linejoin="round"/>
<ellipse cx="355.2" cy="52.6" rx="2.8" ry="1.5" transform="rotate(-10 355.2 52.6)" fill="#1e1e1e" stroke="#111" stroke-width="0.4"/>
<circle cx="355.4" cy="52.3" r="0.5" fill="#d8d8d8"/>
<path d="M339.20,68.00 C339.12,66.88 340.10,64.28 341.00,63.20 C341.90,62.12 343.30,61.53 344.60,61.50 C345.90,61.47 347.60,62.17 348.80,63.00 C350.00,63.83 351.93,65.43 351.80,66.50 C351.67,67.57 349.72,68.83 348.00,69.40 C346.28,69.97 342.97,70.13 341.50,69.90 C340.03,69.67 339.28,69.12 339.20,68.00 Z" fill="#9a9a9a" stroke="#333" stroke-width="0.6" stroke-linejoin="round"/>
<path d="M340.26,67.89 C340.20,67.08 340.91,65.21 341.56,64.43 C342.21,63.65 343.22,63.23 344.15,63.21 C345.09,63.18 346.31,63.69 347.18,64.29 C348.04,64.89 349.43,66.04 349.34,66.81 C349.24,67.58 347.84,68.49 346.60,68.90 C345.36,69.30 342.98,69.42 341.92,69.26 C340.86,69.09 340.32,68.69 340.26,67.89 Z" fill="#c6c6c6" stroke="#333" stroke-width="0.55" stroke-linejoin="round"/>
<path d="M341.25,67.78 C341.21,67.27 341.67,66.07 342.08,65.58 C342.49,65.08 343.14,64.81 343.74,64.79 C344.33,64.78 345.12,65.10 345.67,65.48 C346.22,65.87 347.11,66.60 347.05,67.09 C346.99,67.58 346.09,68.17 345.30,68.43 C344.51,68.69 342.98,68.77 342.31,68.66 C341.64,68.55 341.29,68.30 341.25,67.78 Z" fill="#7c7c7c" stroke="#333" stroke-width="0.5" stroke-linejoin="round"/>
<path d="M342.16,67.69 C342.15,67.44 342.36,66.87 342.56,66.63 C342.76,66.39 343.07,66.27 343.35,66.26 C343.64,66.25 344.01,66.40 344.28,66.59 C344.54,66.77 344.97,67.12 344.94,67.36 C344.91,67.59 344.48,67.87 344.10,68.00 C343.72,68.12 342.99,68.16 342.67,68.11 C342.35,68.05 342.18,67.93 342.16,67.69 Z" fill="#444" stroke="#222" stroke-width="0.4" stroke-linejoin="round"/>
<path d="M417.55,67.34 C417.55,67.69 417.30,68.07 416.88,68.38 C416.46,68.69 415.78,69.00 415.02,69.22 C414.27,69.43 413.28,69.60 412.34,69.68 C411.39,69.76 410.30,69.76 409.36,69.68 C408.41,69.60 407.43,69.43 406.67,69.22 C405.91,69.00 405.23,68.69 404.81,68.38 C404.39,68.07 404.15,67.69 404.15,67.34 C404.15,66.99 404.39,66.61 404.81,66.30 C405.23,65.99 405.91,65.68 406.67,65.46 C407.43,65.25 408.41,65.08 409.36,65.00 C410.30,64.92 411.39,64.92 412.34,65.00 C413.28,65.08 414.27,65.25 415.02,65.46 C415.78,65.68 416.46,65.99 416.88,66.30 C417.30,66.61 417.55,66.99 417.55,67.34 Z" fill="#9a9a9a" stroke="#1a1a1a" stroke-width="0.8" stroke-linejoin="round"/>
<ellipse cx="408.7234376442352" cy="67.52413920428322" rx="2.4" ry="1.3" transform="rotate(0 408.7234376442352 67.52413920428322)" fill="#6a6a6a" stroke="#222" stroke-width="0.5"/>
<ellipse cx="410.84657989476597" cy="67.33951813901966" rx="2.0" ry="1.2" transform="rotate(0 410.84657989476597 67.33951813901966)" fill="#777" stroke="#222" stroke-width="0.5"/>
<ellipse cx="413.33896427582386" cy="67.52413920428322" rx="2.4" ry="1.3" transform="rotate(0 413.33896427582386 67.52413920428322)" fill="#6a6a6a" stroke="#222" stroke-width="0.5"/>
<circle cx="411.4927536231884" cy="63.277854703221635" r="1.25" fill="#222"/>
<circle cx="416.84676451583124" cy="49.15434321056033" r="0.5" fill="#999"/>
<circle cx="410.84657989476597" cy="51.46210652635466" r="0.5" fill="#999"/>
<circle cx="415.46210652635466" cy="55.616080494784455" r="0.5" fill="#999"/>
<circle cx="407.6157112526539" cy="58.38539647373766" r="0.5" fill="#999"/>
<circle cx="428.3855810948029" cy="61.616265115849714" r="0.5" fill="#999"/>
<circle cx="412.2312378842426" cy="60.23160712637312" r="0.5" fill="#999"/>
<circle cx="442.04753992430534" cy="66.69334441059725" r="0.5" fill="#999"/>
<path d="M478.60,67.62 C478.60,67.96 478.51,68.35 478.34,68.66 C478.18,68.97 477.92,69.28 477.62,69.49 C477.33,69.71 476.95,69.88 476.58,69.96 C476.21,70.03 475.79,70.03 475.42,69.96 C475.06,69.88 474.67,69.71 474.38,69.49 C474.09,69.28 473.82,68.97 473.66,68.66 C473.49,68.35 473.40,67.96 473.40,67.62 C473.40,67.27 473.49,66.89 473.66,66.58 C473.82,66.26 474.09,65.96 474.38,65.74 C474.67,65.52 475.06,65.35 475.42,65.28 C475.79,65.20 476.21,65.20 476.58,65.28 C476.95,65.35 477.33,65.52 477.62,65.74 C477.92,65.96 478.18,66.26 478.34,66.58 C478.51,66.89 478.60,67.27 478.60,67.62 Z" fill="#8a8a8a" stroke="#222" stroke-width="0.6" stroke-linejoin="round"/>
<path d="M477.43,67.62 C477.43,67.81 477.38,68.02 477.29,68.19 C477.20,68.36 477.05,68.53 476.89,68.65 C476.73,68.77 476.52,68.86 476.32,68.90 C476.12,68.95 475.88,68.95 475.68,68.90 C475.48,68.86 475.27,68.77 475.11,68.65 C474.95,68.53 474.80,68.36 474.71,68.19 C474.62,68.02 474.57,67.81 474.57,67.62 C474.57,67.43 474.62,67.22 474.71,67.04 C474.80,66.87 474.95,66.70 475.11,66.58 C475.27,66.47 475.48,66.37 475.68,66.33 C475.88,66.29 476.12,66.29 476.32,66.33 C476.52,66.37 476.73,66.47 476.89,66.58 C477.05,66.70 477.20,66.87 477.29,67.04 C477.38,67.22 477.43,67.43 477.43,67.62 Z" fill="#5a5a5a" stroke="#222" stroke-width="0.4" stroke-linejoin="round"/>
<ellipse cx="478.5850641558202" cy="63.09323363795809" rx="1.5" ry="0.9" transform="rotate(-55 478.5850641558202 63.09323363795809)" fill="#b0b0b0" stroke="#222" stroke-width="0.5"/>
<path d="M273.15,115.08 C274.00,114.46 276.46,114.23 277.77,114.62 C279.08,115.00 280.31,116.15 281.00,117.39 C281.69,118.62 281.62,120.15 281.92,122.00 C282.23,123.85 282.92,126.46 282.85,128.46 C282.77,130.46 282.77,132.77 281.46,134.00 C280.15,135.23 276.62,135.85 275.00,135.85 C273.38,135.85 272.31,135.69 271.77,134.00 C271.23,132.31 271.62,128.31 271.77,125.69 C271.92,123.08 272.46,120.08 272.69,118.31 C272.92,116.54 272.31,115.69 273.15,115.08 Z" fill="#a3a3a3" stroke="#111" stroke-width="1.0" stroke-linejoin="round"/>
<path d="M273.68,118.77 C274.32,118.31 276.17,118.14 277.15,118.42 C278.13,118.71 279.05,119.58 279.57,120.50 C280.09,121.42 280.03,122.58 280.26,123.96 C280.49,125.35 281.01,127.31 280.95,128.81 C280.90,130.31 280.90,132.04 279.92,132.96 C278.94,133.89 276.28,134.35 275.07,134.35 C273.86,134.35 273.05,134.23 272.65,132.96 C272.24,131.69 272.53,128.69 272.65,126.73 C272.76,124.77 273.17,122.52 273.34,121.19 C273.51,119.87 273.05,119.23 273.68,118.77 Z" fill="#c8c8c8" stroke="#2a2a2a" stroke-width="0.6" stroke-linejoin="round"/>
<path d="M274.22,122.46 C274.64,122.15 275.87,122.04 276.52,122.23 C277.18,122.42 277.79,123.00 278.14,123.62 C278.49,124.23 278.45,125.00 278.60,125.92 C278.75,126.85 279.10,128.15 279.06,129.15 C279.02,130.15 279.02,131.31 278.37,131.92 C277.72,132.54 275.95,132.85 275.14,132.85 C274.33,132.85 273.79,132.77 273.52,131.92 C273.25,131.08 273.45,129.08 273.52,127.77 C273.60,126.46 273.87,124.96 273.98,124.08 C274.10,123.19 273.79,122.77 274.22,122.46 Z" fill="#8a8a8a" stroke="#222" stroke-width="0.55" stroke-linejoin="round"/>
<path d="M274.68,125.71 C274.92,125.54 275.61,125.47 275.98,125.58 C276.34,125.69 276.69,126.01 276.88,126.36 C277.07,126.70 277.05,127.13 277.14,127.65 C277.22,128.17 277.42,128.90 277.40,129.46 C277.38,130.02 277.38,130.67 277.01,131.01 C276.64,131.35 275.65,131.53 275.20,131.53 C274.75,131.53 274.45,131.48 274.30,131.01 C274.14,130.54 274.25,129.42 274.30,128.68 C274.34,127.95 274.49,127.11 274.55,126.62 C274.62,126.12 274.45,125.88 274.68,125.71 Z" fill="#4a4a4a" stroke="#222" stroke-width="0.45" stroke-linejoin="round"/>
<path d="M281.28,119.97 C282.17,118.89 283.89,116.77 286.08,115.72 C288.26,114.68 292.23,113.88 294.39,113.69 C296.54,113.51 298.11,113.97 299.00,114.62 C299.89,115.26 300.35,116.19 299.74,117.57 C299.12,118.95 296.82,121.72 295.31,122.92 C293.80,124.12 292.05,124.12 290.69,124.77 C289.34,125.42 288.29,125.95 287.19,126.80 C286.08,127.65 284.82,130.03 284.05,129.85 C283.28,129.66 283.12,126.97 282.57,125.69 C282.02,124.42 280.94,123.14 280.72,122.19 C280.51,121.23 280.39,121.05 281.28,119.97 Z" fill="#b0b0b0" stroke="#111" stroke-width="1.0" stroke-linejoin="round"/>
<path d="M298.93,115.73 C299.10,116.19 299.05,116.79 298.79,117.35 C298.52,117.92 298.00,118.57 297.37,119.13 C296.73,119.69 295.84,120.27 294.95,120.71 C294.06,121.15 292.99,121.54 292.02,121.77 C291.06,122.01 290.01,122.13 289.16,122.11 C288.31,122.10 287.50,121.93 286.93,121.67 C286.37,121.40 285.95,120.98 285.78,120.52 C285.61,120.06 285.66,119.46 285.92,118.89 C286.19,118.33 286.71,117.68 287.34,117.12 C287.98,116.56 288.87,115.98 289.76,115.54 C290.65,115.10 291.72,114.71 292.68,114.48 C293.65,114.24 294.70,114.12 295.55,114.13 C296.40,114.15 297.21,114.31 297.78,114.58 C298.34,114.85 298.76,115.27 298.93,115.73 Z" fill="#8e8e8e" stroke="#2a2a2a" stroke-width="0.5" stroke-linejoin="round"/>
<path d="M296.76,116.47 C296.87,116.77 296.83,117.16 296.66,117.53 C296.49,117.89 296.16,118.32 295.74,118.68 C295.33,119.04 294.75,119.42 294.17,119.71 C293.59,119.99 292.90,120.25 292.27,120.40 C291.64,120.55 290.96,120.63 290.41,120.62 C289.86,120.61 289.33,120.50 288.96,120.33 C288.59,120.16 288.32,119.88 288.21,119.58 C288.10,119.28 288.13,118.90 288.30,118.53 C288.47,118.16 288.81,117.74 289.23,117.37 C289.64,117.01 290.22,116.63 290.80,116.35 C291.37,116.06 292.07,115.81 292.70,115.66 C293.33,115.50 294.01,115.42 294.56,115.43 C295.11,115.44 295.64,115.55 296.01,115.72 C296.38,115.90 296.65,116.17 296.76,116.47 Z" fill="#5a5a5a" stroke="#222" stroke-width="0.45" stroke-linejoin="round"/>
<path d="M294.90,117.11 C294.96,117.27 294.94,117.48 294.85,117.67 C294.75,117.87 294.57,118.10 294.35,118.30 C294.12,118.49 293.82,118.69 293.50,118.85 C293.19,119.00 292.82,119.14 292.48,119.22 C292.14,119.30 291.77,119.35 291.48,119.34 C291.18,119.33 290.89,119.28 290.70,119.18 C290.50,119.09 290.35,118.94 290.29,118.78 C290.23,118.62 290.25,118.41 290.34,118.21 C290.44,118.02 290.62,117.79 290.84,117.59 C291.06,117.40 291.37,117.19 291.69,117.04 C292.00,116.89 292.37,116.75 292.71,116.67 C293.05,116.58 293.41,116.54 293.71,116.55 C294.01,116.55 294.29,116.61 294.49,116.70 C294.69,116.80 294.84,116.94 294.90,117.11 Z" fill="#262626" stroke="#111" stroke-width="0.4" stroke-linejoin="round"/>
<path d="M281.92,128.46 C282.20,127.79 283.88,127.74 285.15,127.35 C286.43,126.97 289.25,125.74 289.59,126.15 C289.92,126.57 288.20,128.97 287.19,129.85 C286.17,130.72 284.37,131.65 283.49,131.42 C282.62,131.19 281.65,129.14 281.92,128.46 Z" fill="#5a5a5a" stroke="#000" stroke-width="1.0" stroke-linejoin="round"/>
<path d="M278.69,116.46 C279.00,116.85 280.08,117.82 280.54,118.77 C281.00,119.72 281.15,120.95 281.46,122.19 C281.77,123.42 282.15,124.88 282.39,126.15 C282.62,127.43 282.92,128.62 282.85,129.85 C282.77,131.08 282.08,132.92 281.92,133.54" fill="none" stroke="#000" stroke-width="1.3" stroke-linecap="round"/>
<path d="M279.43,119.05 C279.66,118.12 281.22,118.59 281.74,119.42 C282.26,120.25 282.80,123.11 282.57,124.03 C282.34,124.95 280.88,125.79 280.35,124.95 C279.83,124.12 279.20,119.97 279.43,119.05 Z" fill="#f6f6f6" stroke="#000" stroke-width="1.1" stroke-linejoin="round"/>
<path d="M282.57,125.51 C282.75,125.02 284.11,124.59 284.60,124.77 C285.09,124.95 285.71,126.12 285.52,126.62 C285.34,127.11 283.99,127.91 283.49,127.72 C283.00,127.54 282.39,126.00 282.57,125.51 Z" fill="#f0f0f0" stroke="#000" stroke-width="1.0" stroke-linejoin="round"/>
<path d="M284.23,129.39 C284.62,129.11 285.69,128.15 286.54,127.72 C287.39,127.29 288.85,126.95 289.31,126.80" fill="none" stroke="#000" stroke-width="1.4" stroke-linecap="round"/>
<path d="M337.38,132.15 C337.23,130.77 337.38,128.62 338.31,126.62 C339.23,124.62 341.23,121.92 342.92,120.15 C344.62,118.39 346.92,117.00 348.46,116.00 C350.00,115.00 350.31,114.62 352.15,114.15 C354.00,113.69 357.77,113.00 359.54,113.23 C361.31,113.46 362.46,114.69 362.77,115.54 C363.08,116.39 362.23,117.54 361.39,118.31 C360.54,119.08 359.08,119.23 357.69,120.15 C356.31,121.08 354.00,122.77 353.08,123.85 C352.15,124.92 352.03,125.54 352.15,126.62 C352.28,127.69 353.94,129.31 353.82,130.31 C353.69,131.31 352.77,131.85 351.42,132.62 C350.06,133.39 347.72,134.54 345.69,134.92 C343.66,135.31 340.62,135.39 339.23,134.92 C337.85,134.46 337.54,133.54 337.38,132.15 Z" fill="#a9a9a9" stroke="#111" stroke-width="1.0" stroke-linejoin="round"/>
<path d="M338.77,131.69 C338.62,130.39 339.15,127.85 340.15,126.62 C341.15,125.39 343.15,124.46 344.77,124.31 C346.39,124.15 348.62,124.77 349.85,125.69 C351.08,126.62 352.39,128.54 352.15,129.85 C351.92,131.15 350.31,132.77 348.46,133.54 C346.62,134.31 342.69,134.77 341.08,134.46 C339.46,134.15 338.92,133.00 338.77,131.69 Z" fill="#8f8f8f" stroke="#2a2a2a" stroke-width="0.6" stroke-linejoin="round"/>
<path d="M339.98,131.36 C339.87,130.42 340.26,128.59 340.98,127.70 C341.70,126.82 343.14,126.15 344.30,126.04 C345.47,125.93 347.07,126.37 347.96,127.04 C348.85,127.70 349.79,129.09 349.62,130.03 C349.46,130.97 348.29,132.13 346.96,132.69 C345.63,133.24 342.81,133.57 341.65,133.35 C340.48,133.13 340.10,132.30 339.98,131.36 Z" fill="#c2c2c2" stroke="#2a2a2a" stroke-width="0.55" stroke-linejoin="round"/>
<path d="M341.11,131.05 C341.04,130.44 341.29,129.28 341.75,128.71 C342.21,128.14 343.13,127.72 343.87,127.65 C344.62,127.58 345.64,127.86 346.21,128.29 C346.77,128.71 347.38,129.59 347.27,130.20 C347.16,130.80 346.42,131.54 345.57,131.89 C344.72,132.25 342.92,132.46 342.17,132.32 C341.43,132.18 341.18,131.65 341.11,131.05 Z" fill="#7a7a7a" stroke="#222" stroke-width="0.5" stroke-linejoin="round"/>
<path d="M342.15,130.76 C342.12,130.47 342.24,129.91 342.46,129.64 C342.68,129.37 343.12,129.17 343.47,129.13 C343.83,129.10 344.32,129.23 344.59,129.44 C344.86,129.64 345.15,130.06 345.10,130.35 C345.05,130.64 344.69,130.99 344.29,131.16 C343.88,131.33 343.02,131.43 342.66,131.37 C342.31,131.30 342.19,131.05 342.15,130.76 Z" fill="#3a3a3a" stroke="#222" stroke-width="0.4" stroke-linejoin="round"/>
<path d="M361.02,115.70 C361.12,116.07 360.99,116.53 360.69,116.96 C360.38,117.39 359.83,117.88 359.18,118.30 C358.53,118.72 357.66,119.14 356.79,119.46 C355.93,119.78 354.91,120.05 354.00,120.21 C353.09,120.36 352.12,120.43 351.35,120.40 C350.58,120.36 349.86,120.21 349.37,119.99 C348.89,119.77 348.56,119.43 348.46,119.07 C348.36,118.70 348.48,118.24 348.79,117.81 C349.10,117.38 349.65,116.89 350.30,116.47 C350.95,116.05 351.82,115.63 352.69,115.31 C353.55,114.99 354.57,114.72 355.48,114.56 C356.39,114.41 357.36,114.34 358.13,114.37 C358.90,114.41 359.62,114.56 360.10,114.78 C360.59,115.00 360.92,115.34 361.02,115.70 Z" fill="#5e5e5e" stroke="#222" stroke-width="0.5" stroke-linejoin="round"/>
<path d="M358.51,116.38 C358.56,116.59 358.49,116.87 358.31,117.13 C358.12,117.39 357.79,117.68 357.40,117.93 C357.01,118.18 356.49,118.44 355.97,118.63 C355.45,118.82 354.84,118.99 354.29,119.08 C353.75,119.17 353.17,119.21 352.71,119.19 C352.24,119.17 351.81,119.08 351.52,118.95 C351.23,118.82 351.03,118.61 350.97,118.39 C350.91,118.18 350.99,117.90 351.17,117.64 C351.35,117.38 351.69,117.09 352.07,116.84 C352.46,116.59 352.99,116.33 353.51,116.14 C354.03,115.95 354.64,115.79 355.18,115.69 C355.73,115.60 356.31,115.56 356.77,115.58 C357.23,115.60 357.67,115.69 357.96,115.82 C358.25,115.95 358.45,116.16 358.51,116.38 Z" fill="#2a2a2a" stroke="#111" stroke-width="0.4" stroke-linejoin="round"/>
<path d="M404.38,134.00 C404.46,132.62 405.31,129.51 406.23,127.54 C407.15,125.57 408.85,123.03 409.92,122.19 C411.00,121.34 411.54,122.03 412.69,122.46 C413.85,122.89 415.85,123.77 416.85,124.77 C417.85,125.77 417.97,127.11 418.69,128.46 C419.42,129.82 421.11,131.89 421.19,132.89 C421.26,133.89 420.72,133.94 419.15,134.46 C417.59,134.99 414.00,135.80 411.77,136.03 C409.54,136.26 407.00,136.19 405.77,135.85 C404.54,135.51 404.31,135.39 404.38,134.00 Z" fill="#b4b4b4" stroke="#444" stroke-width="0.8" stroke-linejoin="round"/>
<path d="M405.49,133.82 C404.75,132.71 406.48,129.94 407.34,128.46 C408.20,126.99 409.31,125.26 410.66,124.95 C412.02,124.65 414.05,125.34 415.46,126.62 C416.88,127.89 419.77,131.20 419.15,132.62 C418.54,134.03 414.05,134.91 411.77,135.11 C409.49,135.31 406.23,134.92 405.49,133.82 Z" fill="#d2d2d2" stroke="#555" stroke-width="0.5" stroke-linejoin="round"/>
<path d="M406.72,133.59 C406.16,132.75 407.45,130.68 408.10,129.57 C408.75,128.46 409.58,127.17 410.59,126.94 C411.61,126.71 413.13,127.23 414.19,128.19 C415.25,129.14 417.42,131.62 416.96,132.69 C416.50,133.75 413.13,134.40 411.42,134.55 C409.72,134.70 407.27,134.42 406.72,133.59 Z" fill="#a0a0a0" stroke="#444" stroke-width="0.5" stroke-linejoin="round"/>
<path d="M407.94,133.35 C407.57,132.80 408.43,131.42 408.86,130.68 C409.29,129.94 409.85,129.08 410.52,128.92 C411.20,128.77 412.22,129.12 412.92,129.75 C413.63,130.39 415.08,132.05 414.77,132.75 C414.46,133.46 412.22,133.90 411.08,134.00 C409.94,134.10 408.31,133.91 407.94,133.35 Z" fill="#7a7a7a" stroke="#444" stroke-width="0.45" stroke-linejoin="round"/>
<path d="M409.16,133.12 C408.98,132.85 409.41,132.15 409.62,131.79 C409.84,131.42 410.12,130.99 410.45,130.91 C410.79,130.83 411.30,131.00 411.65,131.32 C412.01,131.64 412.73,132.47 412.58,132.82 C412.42,133.18 411.30,133.40 410.73,133.45 C410.16,133.50 409.35,133.40 409.16,133.12 Z" fill="#555" stroke="#333" stroke-width="0.4" stroke-linejoin="round"/>
<path d="M406.69,126.80 C407.23,126.03 408.92,122.95 409.92,122.19 C410.92,121.42 411.54,121.79 412.69,122.19 C413.85,122.59 415.80,123.54 416.85,124.59 C417.89,125.63 418.25,127.08 418.97,128.46 C419.69,129.85 420.82,132.15 421.19,132.89" fill="none" stroke="#000" stroke-width="1.8" stroke-linecap="round" stroke-linejoin="round"/>
<path d="M408.08,122.92 C408.54,122.74 409.92,121.94 410.85,121.82 C411.77,121.69 412.54,121.77 413.62,122.19 C414.69,122.60 416.69,123.95 417.31,124.31" fill="none" stroke="#000" stroke-width="1.6" stroke-linecap="round"/>
<circle cx="418.0468014400443" cy="122.46229114741992" r="0.9" fill="#111"/>
<path d="M473.23,134.00 C472.92,132.59 473.62,129.69 474.15,127.54 C474.69,125.39 475.77,122.34 476.46,121.08 C477.15,119.82 477.62,119.79 478.31,119.97 C479.00,120.15 479.77,121.39 480.62,122.19 C481.46,122.99 482.46,123.57 483.39,124.77 C484.31,125.97 485.35,128.34 486.15,129.39 C486.95,130.43 488.19,130.51 488.19,131.05 C488.19,131.59 487.26,131.97 486.15,132.62 C485.05,133.26 483.23,134.35 481.54,134.92 C479.85,135.49 477.39,136.19 476.00,136.03 C474.62,135.88 473.54,135.42 473.23,134.00 Z" fill="#b4b4b4" stroke="#444" stroke-width="0.8" stroke-linejoin="round"/>
<path d="M473.69,133.82 C473.05,132.71 474.35,130.00 474.89,128.46 C475.43,126.92 476.09,125.05 476.92,124.59 C477.75,124.12 479.08,124.55 479.88,125.69 C480.68,126.83 481.91,129.85 481.72,131.42 C481.54,132.99 480.11,134.71 478.77,135.11 C477.43,135.51 474.34,134.92 473.69,133.82 Z" fill="#d2d2d2" stroke="#555" stroke-width="0.5" stroke-linejoin="round"/>
<path d="M474.55,133.40 C474.06,132.57 475.04,130.54 475.45,129.39 C475.85,128.23 476.35,126.82 476.97,126.48 C477.59,126.13 478.59,126.45 479.19,127.31 C479.79,128.16 480.71,130.42 480.57,131.60 C480.43,132.78 479.36,134.07 478.35,134.37 C477.35,134.67 475.03,134.23 474.55,133.40 Z" fill="#a0a0a0" stroke="#444" stroke-width="0.5" stroke-linejoin="round"/>
<path d="M475.40,132.99 C475.08,132.43 475.73,131.08 476.00,130.31 C476.27,129.54 476.60,128.60 477.02,128.37 C477.43,128.14 478.09,128.35 478.49,128.92 C478.89,129.49 479.51,131.00 479.42,131.79 C479.32,132.57 478.61,133.43 477.94,133.63 C477.27,133.83 475.72,133.54 475.40,132.99 Z" fill="#7a7a7a" stroke="#444" stroke-width="0.45" stroke-linejoin="round"/>
<path d="M476.25,132.57 C476.09,132.29 476.42,131.62 476.55,131.23 C476.69,130.85 476.85,130.38 477.06,130.26 C477.27,130.15 477.60,130.25 477.80,130.54 C478.00,130.82 478.31,131.58 478.26,131.97 C478.22,132.36 477.86,132.79 477.52,132.89 C477.19,132.99 476.42,132.85 476.25,132.57 Z" fill="#555" stroke="#333" stroke-width="0.4" stroke-linejoin="round"/>
<path d="M475.26,124.77 C475.46,124.15 475.95,121.85 476.46,121.08 C476.97,120.31 477.62,119.97 478.31,120.15 C479.00,120.34 479.77,121.39 480.62,122.19 C481.46,122.99 482.54,123.79 483.39,124.95 C484.23,126.12 484.89,128.19 485.69,129.20 C486.49,130.22 488.03,130.52 488.19,131.05 C488.34,131.57 486.88,132.12 486.62,132.34" fill="none" stroke="#000" stroke-width="1.9" stroke-linecap="round" stroke-linejoin="round"/>
<path d="M482.46,125.69 C482.57,125.23 483.88,125.92 484.49,126.62 C485.11,127.31 485.54,129.14 486.15,129.85 C486.77,130.55 488.15,130.45 488.19,130.86 C488.22,131.28 487.06,132.59 486.34,132.34 C485.62,132.09 484.49,130.49 483.85,129.39 C483.20,128.28 482.35,126.15 482.46,125.69 Z" fill="#000" stroke="#000" stroke-width="0.6" stroke-linejoin="round"/>
<path d="M486.89,122.74 C487.14,122.25 488.31,121.57 488.92,121.45 C489.54,121.32 490.35,121.60 490.59,122.00 C490.82,122.40 490.65,123.39 490.31,123.85 C489.97,124.31 489.03,124.68 488.55,124.77 C488.08,124.86 487.72,124.74 487.45,124.40 C487.17,124.06 486.65,123.23 486.89,122.74 Z" fill="#0a0a0a" stroke="#000" stroke-width="0.6" stroke-linejoin="round"/>
<path d="M483.57,124.59 C484.12,124.34 486.34,123.35 486.89,123.11" fill="none" stroke="#000" stroke-width="1.1" stroke-linecap="round"/>
<text x="116.2" y="214.0" font-size="7.9" text-anchor="end" textLength="72.5" lengthAdjust="spacingAndGlyphs" fill="#231f20">TCF3/PBX1 Bearing OT1</text>
<text x="116.2" y="238.0" font-size="7.9" text-anchor="end" textLength="84.2" lengthAdjust="spacingAndGlyphs" fill="#231f20">Non-Leukemia Bearing OT1</text>
<rect x="122.8" y="207.0" width="51.6" height="9.1" fill="#a0002a" stroke="none" stroke-width="0"/>
<rect x="122.8" y="231.2" width="15.0" height="8.9" fill="#c8c8cc" stroke="none" stroke-width="0"/>
<line x1="174.4" y1="211.5" x2="188.4" y2="211.5" stroke="#231f20" stroke-width="1"/>
<line x1="188.5" y1="208.0" x2="188.5" y2="215.2" stroke="#231f20" stroke-width="1"/>
<line x1="137.8" y1="235.5" x2="141.8" y2="235.5" stroke="#231f20" stroke-width="1"/>
<line x1="141.5" y1="233.2" x2="141.5" y2="238.2" stroke="#231f20" stroke-width="1"/>
<line x1="122.5" y1="202.4" x2="122.5" y2="245.9" stroke="#231f20" stroke-width="1.2"/>
<line x1="122.2" y1="245.5" x2="213.1" y2="245.5" stroke="#231f20" stroke-width="1.2"/>
<line x1="119.8" y1="211.5" x2="122.8" y2="211.5" stroke="#231f20" stroke-width="1"/>
<line x1="119.8" y1="235.5" x2="122.8" y2="235.5" stroke="#231f20" stroke-width="1"/>
<line x1="122.5" y1="245.3" x2="122.5" y2="248.2" stroke="#231f20" stroke-width="1"/>
<text x="122.8" y="258.1" font-size="7.3" text-anchor="middle" fill="#231f20">0</text>
<line x1="144.5" y1="245.3" x2="144.5" y2="248.2" stroke="#231f20" stroke-width="1"/>
<text x="144.4" y="258.1" font-size="7.3" text-anchor="middle" fill="#231f20">10</text>
<line x1="166.5" y1="245.3" x2="166.5" y2="248.2" stroke="#231f20" stroke-width="1"/>
<text x="166.3" y="258.1" font-size="7.3" text-anchor="middle" fill="#231f20">20</text>
<line x1="187.5" y1="245.3" x2="187.5" y2="248.2" stroke="#231f20" stroke-width="1"/>
<text x="187.7" y="258.1" font-size="7.3" text-anchor="middle" fill="#231f20">30</text>
<line x1="209.5" y1="245.3" x2="209.5" y2="248.2" stroke="#231f20" stroke-width="1"/>
<text x="209.2" y="258.1" font-size="7.3" text-anchor="middle" fill="#231f20">40</text>
<line x1="194.5" y1="210.7" x2="194.5" y2="241.2" stroke="#231f20" stroke-width="1"/>
<text x="198.0" y="228.7" font-size="7.8" textLength="24.3" lengthAdjust="spacingAndGlyphs" fill="#231f20">p = 0.02</text>
<text x="128.4" y="267.6" font-size="9.5" textLength="93.9" lengthAdjust="spacingAndGlyphs" fill="#231f20">Percent of CD19+B220+</text>
<text x="348.8" y="213.0" font-size="7.9" text-anchor="end" textLength="65.7" lengthAdjust="spacingAndGlyphs" fill="#231f20">MLL-AF4 bearing OT1</text>
<text x="348.8" y="237.2" font-size="7.9" text-anchor="end" textLength="83.0" lengthAdjust="spacingAndGlyphs" fill="#231f20">Non-Leukemia Bearing OT1</text>
<rect x="355.8" y="206.8" width="66.2" height="8.5" fill="#a0002a" stroke="none" stroke-width="0"/>
<rect x="355.8" y="229.8" width="27.2" height="9.3" fill="#c8c8cc" stroke="none" stroke-width="0"/>
<line x1="422" y1="211.5" x2="431.2" y2="211.5" stroke="#231f20" stroke-width="1"/>
<line x1="431.5" y1="207.6" x2="431.5" y2="214.4" stroke="#231f20" stroke-width="1"/>
<line x1="383" y1="234.5" x2="389.2" y2="234.5" stroke="#231f20" stroke-width="1"/>
<line x1="389.5" y1="231.8" x2="389.5" y2="237.0" stroke="#231f20" stroke-width="1"/>
<line x1="355.5" y1="202.2" x2="355.5" y2="244.3" stroke="#231f20" stroke-width="1.2"/>
<line x1="355.2" y1="243.5" x2="443.5" y2="243.5" stroke="#231f20" stroke-width="1.2"/>
<line x1="352.8" y1="211.5" x2="355.8" y2="211.5" stroke="#231f20" stroke-width="1"/>
<line x1="352.8" y1="234.5" x2="355.8" y2="234.5" stroke="#231f20" stroke-width="1"/>
<line x1="355.5" y1="243.7" x2="355.5" y2="246.6" stroke="#231f20" stroke-width="1"/>
<text x="355.8" y="256.0" font-size="7.3" text-anchor="middle" fill="#231f20">0</text>
<line x1="372.5" y1="243.7" x2="372.5" y2="246.6" stroke="#231f20" stroke-width="1"/>
<text x="372.6" y="256.0" font-size="7.3" text-anchor="middle" fill="#231f20">2</text>
<line x1="389.5" y1="243.7" x2="389.5" y2="246.6" stroke="#231f20" stroke-width="1"/>
<text x="389.7" y="256.0" font-size="7.3" text-anchor="middle" fill="#231f20">4</text>
<line x1="406.5" y1="243.7" x2="406.5" y2="246.6" stroke="#231f20" stroke-width="1"/>
<text x="406.5" y="256.0" font-size="7.3" text-anchor="middle" fill="#231f20">6</text>
<line x1="423.5" y1="243.7" x2="423.5" y2="246.6" stroke="#231f20" stroke-width="1"/>
<text x="423.9" y="256.0" font-size="7.3" text-anchor="middle" fill="#231f20">8</text>
<line x1="441.5" y1="243.7" x2="441.5" y2="246.6" stroke="#231f20" stroke-width="1"/>
<text x="441.2" y="256.0" font-size="7.3" text-anchor="middle" fill="#231f20">10</text>
<line x1="437.5" y1="207.7" x2="437.5" y2="234.5" stroke="#231f20" stroke-width="1"/>
<text x="440.0" y="224.3" font-size="7.8" textLength="25.0" lengthAdjust="spacingAndGlyphs" fill="#231f20">p = 0.02</text>
<text x="359.7" y="269.0" font-size="9.5" textLength="94.6" lengthAdjust="spacingAndGlyphs" fill="#231f20">Percent of CD19+B220+</text>
<line x1="46.5" y1="303.7" x2="46.5" y2="389.90000000000003" stroke="#231f20" stroke-width="1.3"/>
<line x1="43.4" y1="389.5" x2="46.6" y2="389.5" stroke="#231f20" stroke-width="1"/>
<text x="40.4" y="391.828" font-size="7.3" text-anchor="end" fill="#231f20">0</text>
<line x1="43.4" y1="372.5" x2="46.6" y2="372.5" stroke="#231f20" stroke-width="1"/>
<text x="40.4" y="375.47799999999995" font-size="7.3" text-anchor="end" fill="#231f20">20</text>
<line x1="43.4" y1="356.5" x2="46.6" y2="356.5" stroke="#231f20" stroke-width="1"/>
<text x="40.4" y="359.128" font-size="7.3" text-anchor="end" fill="#231f20">40</text>
<line x1="43.4" y1="340.5" x2="46.6" y2="340.5" stroke="#231f20" stroke-width="1"/>
<text x="40.4" y="342.77799999999996" font-size="7.3" text-anchor="end" fill="#231f20">60</text>
<line x1="43.4" y1="323.5" x2="46.6" y2="323.5" stroke="#231f20" stroke-width="1"/>
<text x="40.4" y="326.42799999999994" font-size="7.3" text-anchor="end" fill="#231f20">80</text>
<line x1="43.4" y1="307.5" x2="46.6" y2="307.5" stroke="#231f20" stroke-width="1"/>
<text x="40.4" y="310.078" font-size="7.3" text-anchor="end" fill="#231f20">100</text>
<line x1="46.0" y1="389.5" x2="179.2" y2="389.5" stroke="#231f20" stroke-width="1.3"/>
<line x1="46.5" y1="389.3" x2="46.5" y2="392.3" stroke="#231f20" stroke-width="1"/>
<text x="46.6" y="402.2" font-size="7.3" text-anchor="middle" fill="#231f20">0</text>
<line x1="65.5" y1="389.3" x2="65.5" y2="392.3" stroke="#231f20" stroke-width="1"/>
<text x="65.15" y="402.2" font-size="7.3" text-anchor="middle" fill="#231f20">10</text>
<line x1="83.5" y1="389.3" x2="83.5" y2="392.3" stroke="#231f20" stroke-width="1"/>
<text x="83.7" y="402.2" font-size="7.3" text-anchor="middle" fill="#231f20">20</text>
<line x1="102.5" y1="389.3" x2="102.5" y2="392.3" stroke="#231f20" stroke-width="1"/>
<text x="102.25" y="402.2" font-size="7.3" text-anchor="middle" fill="#231f20">30</text>
<line x1="120.5" y1="389.3" x2="120.5" y2="392.3" stroke="#231f20" stroke-width="1"/>
<text x="120.80000000000001" y="402.2" font-size="7.3" text-anchor="middle" fill="#231f20">40</text>
<line x1="139.5" y1="389.3" x2="139.5" y2="392.3" stroke="#231f20" stroke-width="1"/>
<text x="139.35" y="402.2" font-size="7.3" text-anchor="middle" fill="#231f20">50</text>
<line x1="157.5" y1="389.3" x2="157.5" y2="392.3" stroke="#231f20" stroke-width="1"/>
<text x="157.9" y="402.2" font-size="7.3" text-anchor="middle" fill="#231f20">60</text>
<line x1="176.5" y1="389.3" x2="176.5" y2="392.3" stroke="#231f20" stroke-width="1"/>
<text x="176.45" y="402.2" font-size="7.3" text-anchor="middle" fill="#231f20">70</text>
<text transform="translate(26.2,377.7) rotate(-90)" font-size="8.8" textLength="62.5" lengthAdjust="spacingAndGlyphs" fill="#231f20">Percent survival</text>
<text x="59.2" y="414.1" font-size="9.3" textLength="101.6" lengthAdjust="spacingAndGlyphs" fill="#231f20">Day post tumor challenge</text>
<line x1="50.5" y1="399" x2="50.5" y2="413.5" stroke="#231f20" stroke-width="0.9"/>
<path d="M50,395.5 L48.3,400 L51.7,400 Z" fill="#231f20"/>
<text x="44.8" y="422.5" font-size="7.5" textLength="16.9" lengthAdjust="spacingAndGlyphs" fill="#231f20">Day 2</text>
<text x="31.5" y="430.9" font-size="7.5" textLength="43.1" lengthAdjust="spacingAndGlyphs" fill="#231f20">T Cell Transfer</text>
<polyline points="46.50,307.50 68.50,307.50 68.50,368.50 77.50,368.50 77.50,378.50 90.50,378.50 90.50,389.50" fill="none" stroke="#f0a028" stroke-width="1.0"/>
<path d="M66.7,366.7 L70.3,370.3 M70.3,366.7 L66.7,370.3 M66.7,368.5 L70.3,368.5" stroke="#e08a10" stroke-width="1"/>
<path d="M75.7,376.7 L79.3,380.3 M79.3,376.7 L75.7,380.3 M75.7,378.5 L79.3,378.5" stroke="#e08a10" stroke-width="1"/>
<path d="M88.7,387.7 L92.3,391.3 M92.3,387.7 L88.7,391.3 M88.7,389.5 L92.3,389.5" stroke="#e08a10" stroke-width="1"/>
<polyline points="46.50,307.50 77.50,307.50 77.50,327.50 79.50,327.50 79.50,378.50 83.50,378.50 83.50,389.50" fill="none" stroke="#4a6aab" stroke-width="1.0"/>
<rect x="75.9" y="325.9" width="3.2" height="3.2" fill="#1a3f86" stroke="none" stroke-width="0"/>
<rect x="77.9" y="376.9" width="3.2" height="3.2" fill="#1a3f86" stroke="none" stroke-width="0"/>
<rect x="81.9" y="387.9" width="3.2" height="3.2" fill="#1a3f86" stroke="none" stroke-width="0"/>
<polyline points="46.50,307.50 75.50,307.50 75.50,317.50 79.50,317.50 79.50,338.50 82.50,338.50 82.50,358.50 83.50,358.50 83.50,389.50" fill="none" stroke="#c9244a" stroke-width="1.0"/>
<circle cx="75.5" cy="317.5" r="1.6" fill="#a8001e"/>
<circle cx="79.5" cy="338.5" r="1.6" fill="#a8001e"/>
<circle cx="82.5" cy="358.5" r="1.6" fill="#a8001e"/>
<polyline points="46.50,307.50 112.50,307.50 112.50,338.50 124.50,338.50 124.50,348.50 125.50,348.50 125.50,358.50 131.50,358.50 131.50,368.50 142.50,368.50 142.50,378.50" fill="none" stroke="#72b745" stroke-width="1.0"/>
<path d="M112.5,336.6 L114.4,339.8 L110.6,339.8 Z" fill="#4f9e2a"/>
<path d="M124.5,346.6 L126.4,349.8 L122.6,349.8 Z" fill="#4f9e2a"/>
<path d="M125.5,356.6 L127.4,359.8 L123.6,359.8 Z" fill="#4f9e2a"/>
<path d="M131.5,366.6 L133.4,369.8 L129.6,369.8 Z" fill="#4f9e2a"/>
<path d="M142.5,376.6 L144.4,379.8 L140.6,379.8 Z" fill="#4f9e2a"/>
<polyline points="142.60,378.98 161.30,378.98" fill="none" stroke="#72b745" stroke-width="1"/>
<path d="M161.3,377.08125 L163.20000000000002,380.28125 L159.4,380.28125 Z" fill="#4f9e2a"/>
<polyline points="46.50,307.50 105.50,307.50 105.50,327.50 112.50,327.50 112.50,358.50 116.50,358.50 116.50,368.50 118.50,368.50 118.50,389.50" fill="none" stroke="#74479a" stroke-width="1.0"/>
<circle cx="105.5" cy="327.5" r="1.6" fill="#40175f"/>
<circle cx="112.5" cy="358.5" r="1.6" fill="#40175f"/>
<circle cx="116.5" cy="368.5" r="1.6" fill="#40175f"/>
<circle cx="118.5" cy="389.5" r="1.6" fill="#40175f"/>
<text x="84.3" y="367.6" font-size="6.5" fill="#231f20">*</text>
<text x="133.0" y="363.2" font-size="6.5" fill="#231f20">*</text>
<text x="142.6" y="365.9" font-size="7.7" textLength="28.6" lengthAdjust="spacingAndGlyphs" fill="#231f20">p&lt;0.0001</text>
<line x1="130.3" y1="308.5" x2="139.8" y2="308.5" stroke="#c9244a" stroke-width="1"/>
<circle cx="135.0" cy="308.5" r="1.6" fill="#a8001e"/>
<text x="143.0" y="311.272" font-size="7.7" textLength="73.4" lengthAdjust="spacingAndGlyphs" fill="#231f20">Leukemia-bearing PD1<tspan dy='-2.5' font-size='5'>+</tspan></text>
<line x1="130.3" y1="317.5" x2="139.8" y2="317.5" stroke="#4a6aab" stroke-width="1"/>
<circle cx="135.0" cy="317.9" r="1.6" fill="#1a3f86"/>
<text x="143.0" y="320.67199999999997" font-size="7.7" textLength="72.5" lengthAdjust="spacingAndGlyphs" fill="#231f20">Leukemia-bearing PD1<tspan dy='-2.5' font-size='5'>-</tspan></text>
<line x1="130.3" y1="327.5" x2="139.8" y2="327.5" stroke="#72b745" stroke-width="1"/>
<circle cx="135.0" cy="327.2" r="1.6" fill="#4f9e2a"/>
<text x="143.0" y="329.972" font-size="7.7" textLength="82.5" lengthAdjust="spacingAndGlyphs" fill="#231f20">Leukemia-vaccinated PD1<tspan dy='-2.5' font-size='5'>+</tspan></text>
<line x1="130.3" y1="336.5" x2="139.8" y2="336.5" stroke="#74479a" stroke-width="1"/>
<circle cx="135.0" cy="336.6" r="1.6" fill="#40175f"/>
<text x="143.0" y="339.372" font-size="7.7" textLength="81.5" lengthAdjust="spacingAndGlyphs" fill="#231f20">Leukemia-vaccinated PD1<tspan dy='-2.5' font-size='5'>-</tspan></text>
<line x1="130.3" y1="346.5" x2="139.8" y2="346.5" stroke="#f0a028" stroke-width="1"/>
<path d="M133.2,344.2 L136.8,347.8 M136.8,344.2 L133.2,347.8 M133.2,346.0 L136.8,346.0" stroke="#e08a10" stroke-width="1"/>
<text x="143.0" y="348.772" font-size="7.7" textLength="45.0" lengthAdjust="spacingAndGlyphs" fill="#231f20">Leukemia only</text>
<line x1="285.5" y1="308.2" x2="285.5" y2="389.90000000000003" stroke="#231f20" stroke-width="1.3"/>
<line x1="282.40000000000003" y1="389.5" x2="285.6" y2="389.5" stroke="#231f20" stroke-width="1"/>
<text x="279.9" y="391.828" font-size="7.3" text-anchor="end" fill="#231f20">0</text>
<line x1="282.40000000000003" y1="374.5" x2="285.6" y2="374.5" stroke="#231f20" stroke-width="1"/>
<text x="279.9" y="377.21799999999996" font-size="7.3" text-anchor="end" fill="#231f20">20</text>
<line x1="282.40000000000003" y1="359.5" x2="285.6" y2="359.5" stroke="#231f20" stroke-width="1"/>
<text x="279.9" y="362.60799999999995" font-size="7.3" text-anchor="end" fill="#231f20">40</text>
<line x1="282.40000000000003" y1="345.5" x2="285.6" y2="345.5" stroke="#231f20" stroke-width="1"/>
<text x="279.9" y="347.998" font-size="7.3" text-anchor="end" fill="#231f20">60</text>
<line x1="282.40000000000003" y1="330.5" x2="285.6" y2="330.5" stroke="#231f20" stroke-width="1"/>
<text x="279.9" y="333.388" font-size="7.3" text-anchor="end" fill="#231f20">80</text>
<line x1="282.40000000000003" y1="316.5" x2="285.6" y2="316.5" stroke="#231f20" stroke-width="1"/>
<text x="279.9" y="318.77799999999996" font-size="7.3" text-anchor="end" fill="#231f20">100</text>
<line x1="285.0" y1="389.5" x2="409.1" y2="389.5" stroke="#231f20" stroke-width="1.3"/>
<line x1="285.5" y1="389.3" x2="285.5" y2="392.3" stroke="#231f20" stroke-width="1"/>
<text x="285.6" y="401.4" font-size="7.3" text-anchor="middle" fill="#231f20">0</text>
<line x1="315.5" y1="389.3" x2="315.5" y2="392.3" stroke="#231f20" stroke-width="1"/>
<text x="315.75" y="401.4" font-size="7.3" text-anchor="middle" fill="#231f20">10</text>
<line x1="345.5" y1="389.3" x2="345.5" y2="392.3" stroke="#231f20" stroke-width="1"/>
<text x="345.90000000000003" y="401.4" font-size="7.3" text-anchor="middle" fill="#231f20">20</text>
<line x1="376.5" y1="389.3" x2="376.5" y2="392.3" stroke="#231f20" stroke-width="1"/>
<text x="376.05" y="401.4" font-size="7.3" text-anchor="middle" fill="#231f20">30</text>
<line x1="406.5" y1="389.3" x2="406.5" y2="392.3" stroke="#231f20" stroke-width="1"/>
<text x="406.20000000000005" y="401.4" font-size="7.3" text-anchor="middle" fill="#231f20">40</text>
<text transform="translate(265.6,377.0) rotate(-90)" font-size="8.8" textLength="62.9" lengthAdjust="spacingAndGlyphs" fill="#231f20">Percent survival</text>
<text x="298.7" y="415.6" font-size="9.3" textLength="101.8" lengthAdjust="spacingAndGlyphs" fill="#231f20">Day post tumor challenge</text>
<polyline points="285.50,316.50 340.50,316.50 340.50,330.50 349.50,330.50 349.50,345.50" fill="none" stroke="#f0a028" stroke-width="1.0"/>
<path d="M338.7,328.7 L342.3,332.3 M342.3,328.7 L338.7,332.3 M338.7,330.5 L342.3,330.5" stroke="#e08a10" stroke-width="1"/>
<path d="M347.7,343.7 L351.3,347.3 M351.3,343.7 L347.7,347.3 M347.7,345.5 L351.3,345.5" stroke="#e08a10" stroke-width="1"/>
<polyline points="349.50,345.20 356.00,345.20" fill="none" stroke="#f0a028" stroke-width="1"/>
<path d="M371.59999999999997,387.4 L375.2,391.0 M375.2,387.4 L371.59999999999997,391.0 M371.59999999999997,389.2 L375.2,389.2" stroke="#e08a10" stroke-width="1"/>
<polyline points="285.50,316.50 349.50,316.50 349.50,330.50 355.50,330.50 355.50,345.50 367.50,345.50 367.50,360.50 373.50,360.50 373.50,374.50 379.50,374.50 379.50,389.50" fill="none" stroke="#c9244a" stroke-width="1.0"/>
<circle cx="349.5" cy="330.5" r="1.6" fill="#a8001e"/>
<circle cx="355.5" cy="345.5" r="1.6" fill="#a8001e"/>
<circle cx="367.5" cy="360.5" r="1.6" fill="#a8001e"/>
<circle cx="373.5" cy="374.5" r="1.6" fill="#a8001e"/>
<circle cx="379.5" cy="389.5" r="1.6" fill="#a8001e"/>
<polyline points="285.50,313.50 340.50,313.50 340.50,328.50 355.50,328.50 355.50,343.50 361.50,343.50 361.50,358.50 373.50,358.50 373.50,372.50 379.50,372.50 379.50,389.50" fill="none" stroke="#72b745" stroke-width="1.0"/>
<path d="M340.5,326.6 L342.4,329.8 L338.6,329.8 Z" fill="#4f9e2a"/>
<path d="M355.5,341.6 L357.4,344.8 L353.6,344.8 Z" fill="#4f9e2a"/>
<path d="M361.5,356.6 L363.4,359.8 L359.6,359.8 Z" fill="#4f9e2a"/>
<path d="M373.5,370.6 L375.4,373.8 L371.6,373.8 Z" fill="#4f9e2a"/>
<path d="M379.5,387.6 L381.4,390.8 L377.6,390.8 Z" fill="#4f9e2a"/>
<polyline points="285.50,311.50 349.50,311.50 349.50,330.50 361.50,330.50 361.50,348.50 373.50,348.50 373.50,385.50 373.50,385.50 373.50,389.50" fill="none" stroke="#4a6aab" stroke-width="1.0"/>
<rect x="347.9" y="328.9" width="3.2" height="3.2" fill="#1a3f86" stroke="none" stroke-width="0"/>
<rect x="359.9" y="346.9" width="3.2" height="3.2" fill="#1a3f86" stroke="none" stroke-width="0"/>
<rect x="371.9" y="383.9" width="3.2" height="3.2" fill="#1a3f86" stroke="none" stroke-width="0"/>
<line x1="380.4" y1="323.5" x2="390.0" y2="323.5" stroke="#c9244a" stroke-width="1"/>
<circle cx="385.4" cy="323.1" r="1.6" fill="#a8001e"/>
<text x="393.7" y="325.764" font-size="7.4" textLength="26.5" lengthAdjust="spacingAndGlyphs" fill="#231f20">Anti-PD1</text>
<line x1="380.4" y1="331.5" x2="390.0" y2="331.5" stroke="#4a6aab" stroke-width="1"/>
<rect x="383.79999999999995" y="329.9" width="3.2" height="3.2" fill="#1a3f86" stroke="none" stroke-width="0"/>
<text x="393.7" y="334.164" font-size="7.4" textLength="30.3" lengthAdjust="spacingAndGlyphs" fill="#231f20">Anti-PDL1</text>
<line x1="380.4" y1="340.5" x2="390.0" y2="340.5" stroke="#72b745" stroke-width="1"/>
<path d="M385.4,338.5 L387.29999999999995,341.7 L383.5,341.7 Z" fill="#4f9e2a"/>
<text x="393.7" y="343.06399999999996" font-size="7.4" textLength="65.9" lengthAdjust="spacingAndGlyphs" fill="#231f20">Anti-PD1 + Anti-PDL1</text>
<line x1="380.4" y1="349.5" x2="390.0" y2="349.5" stroke="#f0a028" stroke-width="1"/>
<path d="M383.59999999999997,348.0 L387.2,351.6 M387.2,348.0 L383.59999999999997,351.6 M383.59999999999997,349.8 L387.2,349.8" stroke="#e08a10" stroke-width="1"/>
<text x="393.7" y="352.464" font-size="7.4" textLength="44.4" lengthAdjust="spacingAndGlyphs" fill="#231f20">Leukemia only</text>
<line x1="50.5" y1="463.8" x2="50.5" y2="553.6" stroke="#231f20" stroke-width="1.3"/>
<line x1="47.099999999999994" y1="553.5" x2="50.3" y2="553.5" stroke="#231f20" stroke-width="1"/>
<text x="43.8" y="555.664" font-size="7.4" text-anchor="end" fill="#231f20">0</text>
<line x1="47.099999999999994" y1="535.5" x2="50.3" y2="535.5" stroke="#231f20" stroke-width="1"/>
<text x="43.8" y="538.584" font-size="7.4" text-anchor="end" fill="#231f20">20</text>
<line x1="47.099999999999994" y1="518.5" x2="50.3" y2="518.5" stroke="#231f20" stroke-width="1"/>
<text x="43.8" y="521.504" font-size="7.4" text-anchor="end" fill="#231f20">40</text>
<line x1="47.099999999999994" y1="501.5" x2="50.3" y2="501.5" stroke="#231f20" stroke-width="1"/>
<text x="43.8" y="504.424" font-size="7.4" text-anchor="end" fill="#231f20">60</text>
<line x1="47.099999999999994" y1="484.5" x2="50.3" y2="484.5" stroke="#231f20" stroke-width="1"/>
<text x="43.8" y="487.344" font-size="7.4" text-anchor="end" fill="#231f20">80</text>
<line x1="47.099999999999994" y1="467.5" x2="50.3" y2="467.5" stroke="#231f20" stroke-width="1"/>
<text x="43.8" y="470.264" font-size="7.4" text-anchor="end" fill="#231f20">100</text>
<line x1="49.699999999999996" y1="553.5" x2="181.9" y2="553.5" stroke="#231f20" stroke-width="1.3"/>
<line x1="50.5" y1="553.0" x2="50.5" y2="556.0" stroke="#231f20" stroke-width="1"/>
<text x="50.3" y="565.6" font-size="7.3" text-anchor="middle" fill="#231f20">0</text>
<line x1="93.5" y1="553.0" x2="93.5" y2="556.0" stroke="#231f20" stroke-width="1"/>
<text x="93.24" y="565.6" font-size="7.3" text-anchor="middle" fill="#231f20">20</text>
<line x1="136.5" y1="553.0" x2="136.5" y2="556.0" stroke="#231f20" stroke-width="1"/>
<text x="136.18" y="565.6" font-size="7.3" text-anchor="middle" fill="#231f20">40</text>
<line x1="179.5" y1="553.0" x2="179.5" y2="556.0" stroke="#231f20" stroke-width="1"/>
<text x="179.12" y="565.6" font-size="7.3" text-anchor="middle" fill="#231f20">60</text>
<text transform="translate(31.3,539.9) rotate(-90)" font-size="8.8" textLength="62.4" lengthAdjust="spacingAndGlyphs" fill="#231f20">Percent survival</text>
<text x="62.5" y="578.5" font-size="9.3" textLength="102.4" lengthAdjust="spacingAndGlyphs" fill="#231f20">Day post tumor challenge</text>
<polyline points="50.50,467.50 105.50,467.50 105.50,504.50 108.50,504.50 108.50,540.50 133.50,540.50 133.50,553.50" fill="none" stroke="#f0a028" stroke-width="1.0"/>
<path d="M103.7,502.7 L107.3,506.3 M107.3,502.7 L103.7,506.3 M103.7,504.5 L107.3,504.5" stroke="#e08a10" stroke-width="1"/>
<path d="M106.7,538.7 L110.3,542.3 M110.3,538.7 L106.7,542.3 M106.7,540.5 L110.3,540.5" stroke="#e08a10" stroke-width="1"/>
<path d="M131.7,551.7 L135.3,555.3 M135.3,551.7 L131.7,555.3 M131.7,553.5 L135.3,553.5" stroke="#e08a10" stroke-width="1"/>
<polyline points="50.50,467.50 88.50,467.50 88.50,479.50 93.50,479.50 93.50,492.50 99.50,492.50 99.50,504.50 123.50,504.50 123.50,516.50 125.50,516.50 125.50,540.50 172.50,540.50 172.50,553.50" fill="none" stroke="#4a6aab" stroke-width="1.0"/>
<rect x="86.9" y="477.9" width="3.2" height="3.2" fill="#1a3f86" stroke="none" stroke-width="0"/>
<rect x="91.9" y="490.9" width="3.2" height="3.2" fill="#1a3f86" stroke="none" stroke-width="0"/>
<rect x="97.9" y="502.9" width="3.2" height="3.2" fill="#1a3f86" stroke="none" stroke-width="0"/>
<rect x="121.9" y="514.9" width="3.2" height="3.2" fill="#1a3f86" stroke="none" stroke-width="0"/>
<rect x="123.9" y="538.9" width="3.2" height="3.2" fill="#1a3f86" stroke="none" stroke-width="0"/>
<rect x="170.9" y="551.9" width="3.2" height="3.2" fill="#1a3f86" stroke="none" stroke-width="0"/>
<polyline points="50.50,467.50 105.50,467.50 105.50,479.50 108.50,479.50 108.50,504.50 109.50,504.50 109.50,516.50 112.50,516.50 112.50,528.50 134.50,528.50 134.50,540.50 148.50,540.50 148.50,553.50" fill="none" stroke="#c9244a" stroke-width="1.0"/>
<circle cx="105.5" cy="479.5" r="1.6" fill="#a8001e"/>
<circle cx="108.5" cy="504.5" r="1.6" fill="#a8001e"/>
<circle cx="109.5" cy="516.5" r="1.6" fill="#a8001e"/>
<circle cx="112.5" cy="528.5" r="1.6" fill="#a8001e"/>
<circle cx="134.5" cy="540.5" r="1.6" fill="#a8001e"/>
<circle cx="148.5" cy="553.5" r="1.6" fill="#a8001e"/>
<polyline points="50.50,467.50 93.50,467.50 93.50,479.50 99.50,479.50 99.50,492.50 114.50,492.50 114.50,504.50 125.50,504.50 125.50,540.50 140.50,540.50 140.50,553.50" fill="none" stroke="#72b745" stroke-width="1.0"/>
<path d="M93.5,477.6 L95.4,480.8 L91.6,480.8 Z" fill="#4f9e2a"/>
<path d="M99.5,490.6 L101.4,493.8 L97.6,493.8 Z" fill="#4f9e2a"/>
<path d="M114.5,502.6 L116.4,505.8 L112.6,505.8 Z" fill="#4f9e2a"/>
<path d="M125.5,538.6 L127.4,541.8 L123.6,541.8 Z" fill="#4f9e2a"/>
<path d="M140.5,551.6 L142.4,554.8 L138.6,554.8 Z" fill="#4f9e2a"/>
<line x1="125.4" y1="469.5" x2="135.0" y2="469.5" stroke="#c9244a" stroke-width="1"/>
<circle cx="130.0" cy="469.6" r="1.6" fill="#a8001e"/>
<text x="139.2" y="472.3" font-size="7.5" textLength="28.0" lengthAdjust="spacingAndGlyphs" fill="#231f20">Anti-PD1</text>
<line x1="125.4" y1="479.5" x2="135.0" y2="479.5" stroke="#4a6aab" stroke-width="1"/>
<rect x="128.4" y="477.59999999999997" width="3.2" height="3.2" fill="#1a3f86" stroke="none" stroke-width="0"/>
<text x="139.2" y="481.9" font-size="7.5" textLength="31.5" lengthAdjust="spacingAndGlyphs" fill="#231f20">Anti-TIM3</text>
<line x1="125.4" y1="489.5" x2="135.0" y2="489.5" stroke="#72b745" stroke-width="1"/>
<path d="M130.0,487.5 L131.9,490.7 L128.1,490.7 Z" fill="#4f9e2a"/>
<text x="139.2" y="492.09999999999997" font-size="7.5" textLength="70.2" lengthAdjust="spacingAndGlyphs" fill="#231f20">Anti-PD1 + Anti-TIM3</text>
<line x1="125.4" y1="499.5" x2="135.0" y2="499.5" stroke="#f0a028" stroke-width="1"/>
<path d="M128.2,497.59999999999997 L131.8,501.2 M131.8,497.59999999999997 L128.2,501.2 M128.2,499.4 L131.8,499.4" stroke="#e08a10" stroke-width="1"/>
<text x="139.2" y="502.09999999999997" font-size="7.5" textLength="48.5" lengthAdjust="spacingAndGlyphs" fill="#231f20">Leukemia only</text>
<line x1="289.5" y1="470.8" x2="289.5" y2="553.5" stroke="#231f20" stroke-width="1.3"/>
<line x1="286.5" y1="552.5" x2="289.7" y2="552.5" stroke="#231f20" stroke-width="1"/>
<text x="283.1" y="555.564" font-size="7.4" text-anchor="end" fill="#231f20">0</text>
<line x1="286.5" y1="536.5" x2="289.7" y2="536.5" stroke="#231f20" stroke-width="1"/>
<text x="283.1" y="539.544" font-size="7.4" text-anchor="end" fill="#231f20">20</text>
<line x1="286.5" y1="520.5" x2="289.7" y2="520.5" stroke="#231f20" stroke-width="1"/>
<text x="283.1" y="523.524" font-size="7.4" text-anchor="end" fill="#231f20">40</text>
<line x1="286.5" y1="504.5" x2="289.7" y2="504.5" stroke="#231f20" stroke-width="1"/>
<text x="283.1" y="507.50399999999996" font-size="7.4" text-anchor="end" fill="#231f20">60</text>
<line x1="286.5" y1="488.5" x2="289.7" y2="488.5" stroke="#231f20" stroke-width="1"/>
<text x="283.1" y="491.484" font-size="7.4" text-anchor="end" fill="#231f20">80</text>
<line x1="286.5" y1="472.5" x2="289.7" y2="472.5" stroke="#231f20" stroke-width="1"/>
<text x="283.1" y="475.46399999999994" font-size="7.4" text-anchor="end" fill="#231f20">100</text>
<line x1="289.09999999999997" y1="552.5" x2="411.3" y2="552.5" stroke="#231f20" stroke-width="1.3"/>
<line x1="289.5" y1="552.8" x2="289.5" y2="555.8" stroke="#231f20" stroke-width="1"/>
<text x="289.7" y="565.5" font-size="7.3" text-anchor="middle" fill="#231f20">0</text>
<line x1="313.5" y1="552.8" x2="313.5" y2="555.8" stroke="#231f20" stroke-width="1"/>
<text x="313.59999999999997" y="565.5" font-size="7.3" text-anchor="middle" fill="#231f20">10</text>
<line x1="337.5" y1="552.8" x2="337.5" y2="555.8" stroke="#231f20" stroke-width="1"/>
<text x="337.5" y="565.5" font-size="7.3" text-anchor="middle" fill="#231f20">20</text>
<line x1="361.5" y1="552.8" x2="361.5" y2="555.8" stroke="#231f20" stroke-width="1"/>
<text x="361.4" y="565.5" font-size="7.3" text-anchor="middle" fill="#231f20">30</text>
<line x1="385.5" y1="552.8" x2="385.5" y2="555.8" stroke="#231f20" stroke-width="1"/>
<text x="385.3" y="565.5" font-size="7.3" text-anchor="middle" fill="#231f20">40</text>
<line x1="409.5" y1="552.8" x2="409.5" y2="555.8" stroke="#231f20" stroke-width="1"/>
<text x="409.2" y="565.5" font-size="7.3" text-anchor="middle" fill="#231f20">50</text>
<text transform="translate(269.9,542.4) rotate(-90)" font-size="8.8" textLength="61.6" lengthAdjust="spacingAndGlyphs" fill="#231f20">Percent survival</text>
<text x="301.7" y="578.4" font-size="9.3" textLength="102.4" lengthAdjust="spacingAndGlyphs" fill="#231f20">Day post tumor challenge</text>
<line x1="296.5" y1="563.5" x2="296.5" y2="579.6" stroke="#231f20" stroke-width="0.9"/>
<path d="M296.5,559.4 L294.8,564 L298.2,564 Z" fill="#231f20"/>
<text x="290.8" y="586.2" font-size="7.5" textLength="17.3" lengthAdjust="spacingAndGlyphs" fill="#231f20">Day 2</text>
<text x="277.2" y="594.2" font-size="7.5" textLength="44.1" lengthAdjust="spacingAndGlyphs" fill="#231f20">T Cell Transfer</text>
<polyline points="289.50,472.50 320.50,472.50 320.50,488.50 325.50,488.50 325.50,520.50 329.50,520.50 329.50,536.50 335.50,536.50 335.50,552.50" fill="none" stroke="#72b745" stroke-width="1.0"/>
<circle cx="320.5" cy="488.5" r="1.6" fill="#4f9e2a"/>
<circle cx="325.5" cy="520.5" r="1.6" fill="#4f9e2a"/>
<circle cx="329.5" cy="536.5" r="1.6" fill="#4f9e2a"/>
<circle cx="335.5" cy="552.5" r="1.6" fill="#4f9e2a"/>
<polyline points="289.50,472.50 363.50,472.50 363.50,484.50 368.50,484.50 368.50,507.50 378.50,507.50 378.50,530.50 383.50,530.50 383.50,541.50 401.50,541.50 401.50,552.50" fill="none" stroke="#74479a" stroke-width="1.0"/>
<rect x="361.9" y="482.9" width="3.2" height="3.2" fill="#40175f" stroke="none" stroke-width="0"/>
<rect x="366.9" y="505.9" width="3.2" height="3.2" fill="#40175f" stroke="none" stroke-width="0"/>
<rect x="376.9" y="528.9" width="3.2" height="3.2" fill="#40175f" stroke="none" stroke-width="0"/>
<rect x="381.9" y="539.9" width="3.2" height="3.2" fill="#40175f" stroke="none" stroke-width="0"/>
<rect x="399.9" y="550.9" width="3.2" height="3.2" fill="#40175f" stroke="none" stroke-width="0"/>
<polyline points="289.50,472.50 341.50,472.50 341.50,500.50 349.50,500.50 349.50,526.50 358.50,526.50 358.50,539.50 363.50,539.50 363.50,552.50" fill="none" stroke="#c9244a" stroke-width="1.0"/>
<path d="M341.5,498.6 L343.4,501.8 L339.6,501.8 Z" fill="none" stroke="#a8001e" stroke-width="0.9"/>
<path d="M349.5,524.6 L351.4,527.8 L347.6,527.8 Z" fill="none" stroke="#a8001e" stroke-width="0.9"/>
<path d="M358.5,537.6 L360.4,540.8 L356.6,540.8 Z" fill="none" stroke="#a8001e" stroke-width="0.9"/>
<path d="M363.5,550.6 L365.4,553.8 L361.6,553.8 Z" fill="none" stroke="#a8001e" stroke-width="0.9"/>
<polyline points="289.50,472.50 344.50,472.50 344.50,487.50 346.50,487.50 346.50,526.50 349.50,526.50 349.50,539.50 363.50,539.50 363.50,552.50" fill="none" stroke="#c8781e" stroke-width="1.0"/>
<circle cx="344.5" cy="487.5" r="1.6" fill="#b0640a"/>
<circle cx="346.5" cy="526.5" r="1.6" fill="#b0640a"/>
<circle cx="349.5" cy="539.5" r="1.6" fill="#b0640a"/>
<circle cx="363.5" cy="552.5" r="1.6" fill="#b0640a"/>
<polyline points="289.50,472.50 342.50,472.50 342.50,487.50 346.50,487.50 346.50,513.50 349.50,513.50 349.50,539.50 363.50,539.50 363.50,552.50" fill="none" stroke="#4a6aab" stroke-width="1.0"/>
<path d="M342.5,485.6 L344.4,488.8 L340.6,488.8 Z" fill="#1a3f86"/>
<path d="M346.5,511.6 L348.4,514.8 L344.6,514.8 Z" fill="#1a3f86"/>
<path d="M349.5,537.6 L351.4,540.8 L347.6,540.8 Z" fill="#1a3f86"/>
<path d="M363.5,550.6 L365.4,553.8 L361.6,553.8 Z" fill="#1a3f86"/>
<line x1="382.8" y1="479.5" x2="392.7" y2="479.5" stroke="#72b745" stroke-width="1"/>
<circle cx="387.6" cy="479.3" r="1.6" fill="#4f9e2a"/>
<text x="396.6" y="482.0" font-size="7.5" textLength="41.6" lengthAdjust="spacingAndGlyphs" fill="#231f20">Naive Donors</text>
<line x1="382.8" y1="488.5" x2="392.7" y2="488.5" stroke="#74479a" stroke-width="1"/>
<rect x="386.0" y="486.5" width="3.2" height="3.2" fill="#40175f" stroke="none" stroke-width="0"/>
<text x="396.6" y="490.8" font-size="7.5" textLength="55.4" lengthAdjust="spacingAndGlyphs" fill="#231f20">Vaccinated Donor</text>
<line x1="382.8" y1="496.5" x2="392.7" y2="496.5" stroke="#4a6aab" stroke-width="1"/>
<path d="M387.6,494.90000000000003 L389.5,498.1 L385.70000000000005,498.1 Z" fill="#1a3f86"/>
<text x="396.6" y="499.5" font-size="7.5" textLength="90.0" lengthAdjust="spacingAndGlyphs" fill="#231f20">Vaccinated Donor + Anti-PD1</text>
<line x1="382.8" y1="506.5" x2="392.7" y2="506.5" stroke="#c8781e" stroke-width="1"/>
<circle cx="387.6" cy="506.1" r="1.6" fill="#b0640a"/>
<text x="396.6" y="508.8" font-size="7.5" textLength="93.0" lengthAdjust="spacingAndGlyphs" fill="#231f20">Vaccinated Donor + Anti-TIM3</text>
<line x1="382.8" y1="514.5" x2="392.7" y2="514.5" stroke="#c9244a" stroke-width="1"/>
<path d="M387.6,512.7 L389.5,515.9 L385.70000000000005,515.9 Z" fill="none" stroke="#a8001e" stroke-width="0.9"/>
<text x="396.6" y="517.3000000000001" font-size="7.5" textLength="60.7" lengthAdjust="spacingAndGlyphs" fill="#231f20">Vaccinated Donor +</text>
<text x="396.6" y="525.4" font-size="7.5" textLength="65.3" lengthAdjust="spacingAndGlyphs" fill="#231f20">Anti-PD1 + Anti-TIM3</text>
<rect x="0.5" y="0.5" width="519" height="603" fill="none" stroke="#000" stroke-width="1.2"/>
</svg>
</body></html>
